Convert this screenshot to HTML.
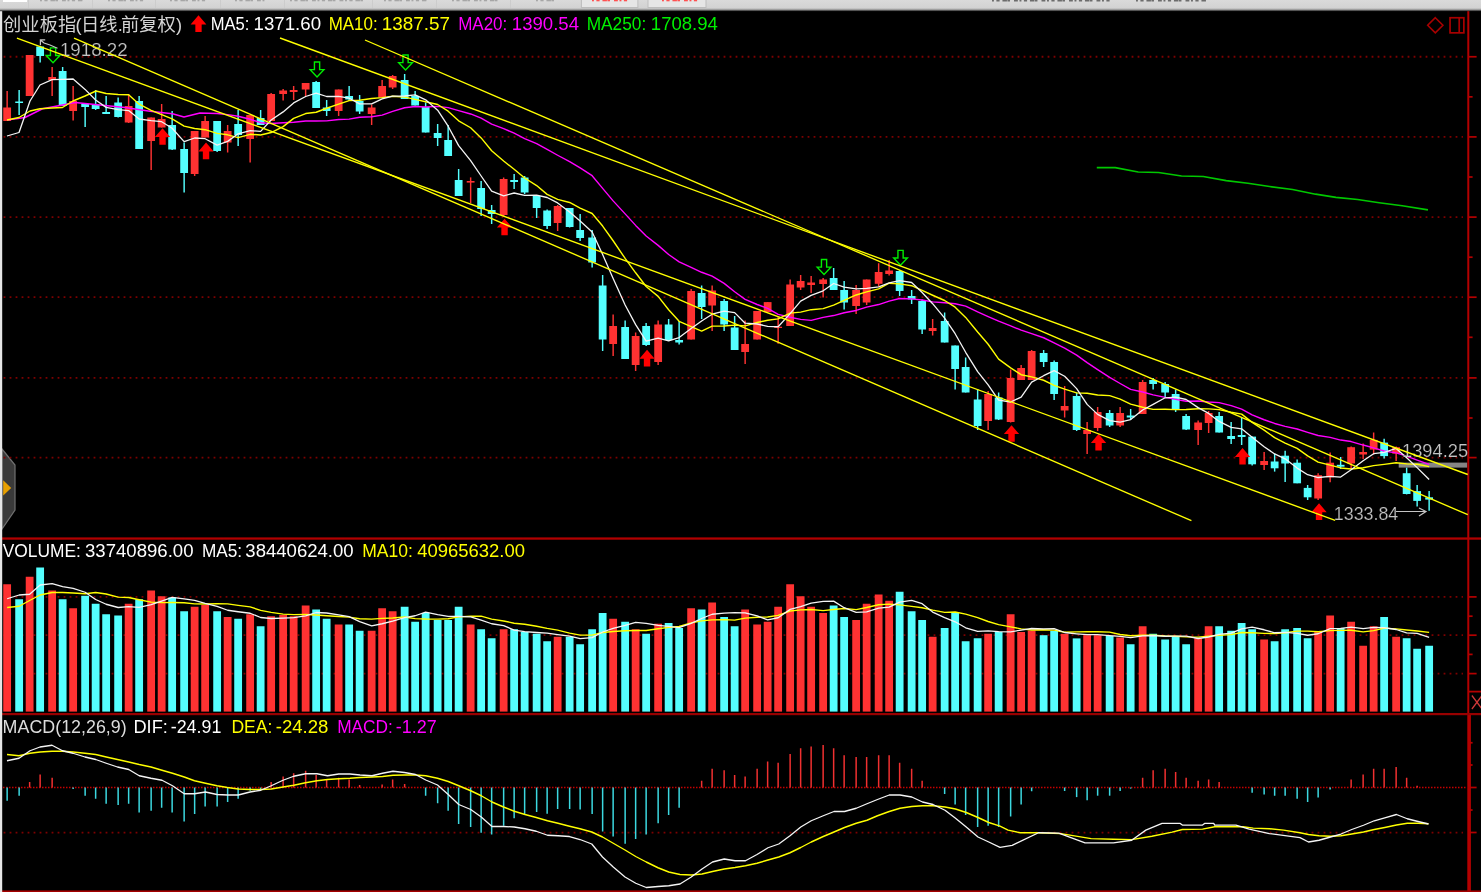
<!DOCTYPE html>
<html><head><meta charset="utf-8"><title>chart</title>
<style>html,body{margin:0;padding:0;background:#000;overflow:hidden}body{width:1481px;height:892px;position:relative;font-family:"Liberation Sans",sans-serif}svg text{font-family:"Liberation Sans",sans-serif}</style></head>
<body>
<svg width="1481" height="892" viewBox="0 0 1481 892" style="position:absolute;left:0;top:0;will-change:transform">
<defs><linearGradient id="tb" x1="0" y1="0" x2="0" y2="1"><stop offset="0" stop-color="#dadada"/><stop offset="0.72" stop-color="#d2d2d2"/><stop offset="0.86" stop-color="#9a9a9a"/><stop offset="1" stop-color="#1a1a1a"/></linearGradient></defs>
<rect width="1481" height="892" fill="#000"/>
<path d="M2,449 L15,465 L15,510 L2,529 Z" fill="#3a3a3a" stroke="#707070" stroke-width="1.2"/>
<path d="M3.2,480.3 L11.2,488 L3.2,495.6 Z" fill="#e8a000"/>
<line x1="3.6" y1="56.75" x2="1463" y2="56.75" stroke="#7e0000" stroke-width="1.8" stroke-dasharray="1.8 4.2"/>
<line x1="3.6" y1="136.9" x2="1463" y2="136.9" stroke="#7e0000" stroke-width="1.8" stroke-dasharray="1.8 4.2"/>
<line x1="3.6" y1="217.1" x2="1463" y2="217.1" stroke="#7e0000" stroke-width="1.8" stroke-dasharray="1.8 4.2"/>
<line x1="3.6" y1="297.2" x2="1463" y2="297.2" stroke="#7e0000" stroke-width="1.8" stroke-dasharray="1.8 4.2"/>
<line x1="3.6" y1="377.9" x2="1463" y2="377.9" stroke="#7e0000" stroke-width="1.8" stroke-dasharray="1.8 4.2"/>
<line x1="3.6" y1="457.6" x2="1463" y2="457.6" stroke="#7e0000" stroke-width="1.8" stroke-dasharray="1.8 4.2"/>
<line x1="3.6" y1="596.9" x2="1463" y2="596.9" stroke="#7e0000" stroke-width="1.8" stroke-dasharray="1.8 4.2"/>
<line x1="3.6" y1="635.2" x2="1463" y2="635.2" stroke="#7e0000" stroke-width="1.8" stroke-dasharray="1.8 4.2"/>
<line x1="3.6" y1="673.6" x2="1463" y2="673.6" stroke="#7e0000" stroke-width="1.8" stroke-dasharray="1.8 4.2"/>
<line x1="3.6" y1="832.6" x2="1463" y2="832.6" stroke="#7e0000" stroke-width="1.8" stroke-dasharray="1.8 4.2"/>
<line x1="3" y1="787.5" x2="1466" y2="787.5" stroke="#c40000" stroke-width="1.7" stroke-dasharray="1.5 1.5"/>
<rect x="3.24" y="584.25" width="7.8" height="127.35" fill="#ff3232"/>
<rect x="15.24" y="599.25" width="7.8" height="112.35" fill="#54ffff"/>
<rect x="25.74" y="576.75" width="7.8" height="134.85" fill="#ff3232"/>
<rect x="36.24" y="567.5" width="7.8" height="144.1" fill="#54ffff"/>
<rect x="48.24" y="590.5" width="7.8" height="121.1" fill="#ff3232"/>
<rect x="58.74" y="599.25" width="7.8" height="112.35" fill="#54ffff"/>
<rect x="69.24" y="608.25" width="7.8" height="103.35" fill="#ff3232"/>
<rect x="81.24" y="595.75" width="7.8" height="115.85" fill="#54ffff"/>
<rect x="91.74" y="603.75" width="7.8" height="107.85" fill="#54ffff"/>
<rect x="102.24" y="614.25" width="7.8" height="97.35" fill="#54ffff"/>
<rect x="114.24" y="615.5" width="7.8" height="96.1" fill="#54ffff"/>
<rect x="124.74" y="603.75" width="7.8" height="107.85" fill="#ff3232"/>
<rect x="135.24" y="599.25" width="7.8" height="112.35" fill="#54ffff"/>
<rect x="147.24" y="590.5" width="7.8" height="121.1" fill="#ff3232"/>
<rect x="157.74" y="596.25" width="7.8" height="115.35" fill="#ff3232"/>
<rect x="168.24" y="597.5" width="7.8" height="114.1" fill="#54ffff"/>
<rect x="180.24" y="611.25" width="7.8" height="100.35" fill="#54ffff"/>
<rect x="190.74" y="606.75" width="7.8" height="104.85" fill="#ff3232"/>
<rect x="201.24" y="605" width="7.8" height="106.6" fill="#ff3232"/>
<rect x="213.24" y="611.25" width="7.8" height="100.35" fill="#54ffff"/>
<rect x="223.74" y="617" width="7.8" height="94.6" fill="#ff3232"/>
<rect x="234.24" y="618.75" width="7.8" height="92.85" fill="#54ffff"/>
<rect x="246.24" y="614.25" width="7.8" height="97.35" fill="#ff3232"/>
<rect x="256.74" y="626.25" width="7.8" height="85.35" fill="#54ffff"/>
<rect x="267.24" y="616.25" width="7.8" height="95.35" fill="#ff3232"/>
<rect x="279.24" y="615" width="7.8" height="96.6" fill="#ff3232"/>
<rect x="289.74" y="616.25" width="7.8" height="95.35" fill="#ff3232"/>
<rect x="301.74" y="605.5" width="7.8" height="106.1" fill="#ff3232"/>
<rect x="312.24" y="609.5" width="7.8" height="102.1" fill="#54ffff"/>
<rect x="322.74" y="618.75" width="7.8" height="92.85" fill="#54ffff"/>
<rect x="334.74" y="624.5" width="7.8" height="87.1" fill="#ff3232"/>
<rect x="345.24" y="624.5" width="7.8" height="87.1" fill="#54ffff"/>
<rect x="355.74" y="630.75" width="7.8" height="80.85" fill="#54ffff"/>
<rect x="367.74" y="630.75" width="7.8" height="80.85" fill="#ff3232"/>
<rect x="378.24" y="608.25" width="7.8" height="103.35" fill="#ff3232"/>
<rect x="388.74" y="611.25" width="7.8" height="100.35" fill="#ff3232"/>
<rect x="400.74" y="606.75" width="7.8" height="104.85" fill="#54ffff"/>
<rect x="411.24" y="621.75" width="7.8" height="89.85" fill="#54ffff"/>
<rect x="421.74" y="613" width="7.8" height="98.6" fill="#54ffff"/>
<rect x="433.74" y="620" width="7.8" height="91.6" fill="#54ffff"/>
<rect x="444.24" y="620" width="7.8" height="91.6" fill="#54ffff"/>
<rect x="454.74" y="606.75" width="7.8" height="104.85" fill="#54ffff"/>
<rect x="466.74" y="624.5" width="7.8" height="87.1" fill="#ff3232"/>
<rect x="477.24" y="629.25" width="7.8" height="82.35" fill="#54ffff"/>
<rect x="487.74" y="638.25" width="7.8" height="73.35" fill="#54ffff"/>
<rect x="499.74" y="629.25" width="7.8" height="82.35" fill="#ff3232"/>
<rect x="510.24" y="629.25" width="7.8" height="82.35" fill="#54ffff"/>
<rect x="520.74" y="632" width="7.8" height="79.6" fill="#54ffff"/>
<rect x="532.74" y="633.75" width="7.8" height="77.85" fill="#54ffff"/>
<rect x="543.24" y="641.25" width="7.8" height="70.35" fill="#54ffff"/>
<rect x="553.74" y="636.75" width="7.8" height="74.85" fill="#ff3232"/>
<rect x="565.74" y="636.75" width="7.8" height="74.85" fill="#54ffff"/>
<rect x="576.24" y="644.25" width="7.8" height="67.35" fill="#54ffff"/>
<rect x="588.24" y="629.25" width="7.8" height="82.35" fill="#54ffff"/>
<rect x="598.74" y="613" width="7.8" height="98.6" fill="#54ffff"/>
<rect x="609.24" y="618.75" width="7.8" height="92.85" fill="#ff3232"/>
<rect x="621.24" y="621.75" width="7.8" height="89.85" fill="#54ffff"/>
<rect x="631.74" y="629.25" width="7.8" height="82.35" fill="#ff3232"/>
<rect x="642.24" y="633.75" width="7.8" height="77.85" fill="#54ffff"/>
<rect x="654.24" y="623.75" width="7.8" height="87.85" fill="#ff3232"/>
<rect x="664.74" y="623" width="7.8" height="88.6" fill="#54ffff"/>
<rect x="675.24" y="628" width="7.8" height="83.6" fill="#54ffff"/>
<rect x="687.24" y="608.25" width="7.8" height="103.35" fill="#ff3232"/>
<rect x="697.74" y="609.5" width="7.8" height="102.1" fill="#54ffff"/>
<rect x="708.24" y="602.5" width="7.8" height="109.1" fill="#ff3232"/>
<rect x="720.24" y="617" width="7.8" height="94.6" fill="#54ffff"/>
<rect x="730.74" y="626.25" width="7.8" height="85.35" fill="#54ffff"/>
<rect x="741.24" y="609.5" width="7.8" height="102.1" fill="#ff3232"/>
<rect x="753.24" y="624.5" width="7.8" height="87.1" fill="#ff3232"/>
<rect x="763.74" y="621.75" width="7.8" height="89.85" fill="#ff3232"/>
<rect x="774.24" y="606.75" width="7.8" height="104.85" fill="#ff3232"/>
<rect x="786.24" y="584.25" width="7.8" height="127.35" fill="#ff3232"/>
<rect x="796.74" y="596.25" width="7.8" height="115.35" fill="#ff3232"/>
<rect x="807.24" y="606.75" width="7.8" height="104.85" fill="#ff3232"/>
<rect x="819.24" y="613" width="7.8" height="98.6" fill="#ff3232"/>
<rect x="829.74" y="605.5" width="7.8" height="106.1" fill="#54ffff"/>
<rect x="840.24" y="617" width="7.8" height="94.6" fill="#54ffff"/>
<rect x="852.24" y="620" width="7.8" height="91.6" fill="#ff3232"/>
<rect x="862.74" y="603.75" width="7.8" height="107.85" fill="#ff3232"/>
<rect x="874.74" y="594.5" width="7.8" height="117.1" fill="#ff3232"/>
<rect x="885.24" y="600.75" width="7.8" height="110.85" fill="#ff3232"/>
<rect x="895.74" y="591.75" width="7.8" height="119.85" fill="#54ffff"/>
<rect x="907.74" y="611.25" width="7.8" height="100.35" fill="#54ffff"/>
<rect x="918.24" y="620" width="7.8" height="91.6" fill="#54ffff"/>
<rect x="928.74" y="636.75" width="7.8" height="74.85" fill="#ff3232"/>
<rect x="940.74" y="628" width="7.8" height="83.6" fill="#54ffff"/>
<rect x="951.24" y="613" width="7.8" height="98.6" fill="#54ffff"/>
<rect x="961.74" y="641.25" width="7.8" height="70.35" fill="#54ffff"/>
<rect x="973.74" y="638.25" width="7.8" height="73.35" fill="#54ffff"/>
<rect x="984.24" y="633.75" width="7.8" height="77.85" fill="#ff3232"/>
<rect x="994.74" y="632" width="7.8" height="79.6" fill="#54ffff"/>
<rect x="1006.74" y="614.25" width="7.8" height="97.35" fill="#ff3232"/>
<rect x="1017.24" y="632" width="7.8" height="79.6" fill="#ff3232"/>
<rect x="1027.74" y="630.5" width="7.8" height="81.1" fill="#ff3232"/>
<rect x="1039.74" y="635.2" width="7.8" height="76.4" fill="#54ffff"/>
<rect x="1050.24" y="631" width="7.8" height="80.6" fill="#54ffff"/>
<rect x="1060.74" y="633.8" width="7.8" height="77.8" fill="#ff3232"/>
<rect x="1072.74" y="638.4" width="7.8" height="73.2" fill="#54ffff"/>
<rect x="1083.24" y="635.2" width="7.8" height="76.4" fill="#ff3232"/>
<rect x="1093.74" y="635.2" width="7.8" height="76.4" fill="#ff3232"/>
<rect x="1105.74" y="636" width="7.8" height="75.6" fill="#54ffff"/>
<rect x="1116.24" y="637.5" width="7.8" height="74.1" fill="#ff3232"/>
<rect x="1126.74" y="644.25" width="7.8" height="67.35" fill="#54ffff"/>
<rect x="1138.74" y="626.25" width="7.8" height="85.35" fill="#ff3232"/>
<rect x="1149.24" y="633.75" width="7.8" height="77.85" fill="#54ffff"/>
<rect x="1161.24" y="639.5" width="7.8" height="72.1" fill="#54ffff"/>
<rect x="1171.74" y="636.75" width="7.8" height="74.85" fill="#54ffff"/>
<rect x="1182.24" y="644.25" width="7.8" height="67.35" fill="#54ffff"/>
<rect x="1194.24" y="638.25" width="7.8" height="73.35" fill="#ff3232"/>
<rect x="1204.74" y="626.25" width="7.8" height="85.35" fill="#ff3232"/>
<rect x="1215.24" y="626.25" width="7.8" height="85.35" fill="#54ffff"/>
<rect x="1227.24" y="630.75" width="7.8" height="80.85" fill="#54ffff"/>
<rect x="1237.74" y="623" width="7.8" height="88.6" fill="#54ffff"/>
<rect x="1248.24" y="629.25" width="7.8" height="82.35" fill="#54ffff"/>
<rect x="1260.24" y="639.5" width="7.8" height="72.1" fill="#ff3232"/>
<rect x="1270.74" y="641.25" width="7.8" height="70.35" fill="#54ffff"/>
<rect x="1281.24" y="629.25" width="7.8" height="82.35" fill="#54ffff"/>
<rect x="1293.24" y="628" width="7.8" height="83.6" fill="#54ffff"/>
<rect x="1303.74" y="638.25" width="7.8" height="73.35" fill="#54ffff"/>
<rect x="1314.24" y="632" width="7.8" height="79.6" fill="#ff3232"/>
<rect x="1326.24" y="615.5" width="7.8" height="96.1" fill="#ff3232"/>
<rect x="1336.74" y="628" width="7.8" height="83.6" fill="#54ffff"/>
<rect x="1347.24" y="621.75" width="7.8" height="89.85" fill="#ff3232"/>
<rect x="1359.24" y="645.75" width="7.8" height="65.85" fill="#ff3232"/>
<rect x="1369.74" y="626.25" width="7.8" height="85.35" fill="#ff3232"/>
<rect x="1380.24" y="617" width="7.8" height="94.6" fill="#54ffff"/>
<rect x="1392.24" y="636.75" width="7.8" height="74.85" fill="#ff3232"/>
<rect x="1402.74" y="638.25" width="7.8" height="73.35" fill="#54ffff"/>
<rect x="1413.24" y="648.75" width="7.8" height="62.85" fill="#54ffff"/>
<rect x="1425.24" y="645.75" width="7.8" height="65.85" fill="#54ffff"/>
<line x1="7.14" y1="787.5" x2="7.14" y2="800.75" stroke="#3cd8e0" stroke-width="1.5"/>
<line x1="19.14" y1="787.5" x2="19.14" y2="795.75" stroke="#3cd8e0" stroke-width="1.5"/>
<line x1="29.64" y1="787.5" x2="29.64" y2="782" stroke="#f03030" stroke-width="1.5"/>
<line x1="40.14" y1="787.5" x2="40.14" y2="774.5" stroke="#f03030" stroke-width="1.5"/>
<line x1="52.14" y1="787.5" x2="52.14" y2="777.75" stroke="#f03030" stroke-width="1.5"/>
<line x1="73.14" y1="787.5" x2="73.14" y2="789" stroke="#3cd8e0" stroke-width="1.5"/>
<line x1="85.14" y1="787.5" x2="85.14" y2="795.75" stroke="#3cd8e0" stroke-width="1.5"/>
<line x1="95.64" y1="787.5" x2="95.64" y2="798.75" stroke="#3cd8e0" stroke-width="1.5"/>
<line x1="106.14" y1="787.5" x2="106.14" y2="803.75" stroke="#3cd8e0" stroke-width="1.5"/>
<line x1="118.14" y1="787.5" x2="118.14" y2="805" stroke="#3cd8e0" stroke-width="1.5"/>
<line x1="128.64" y1="787.5" x2="128.64" y2="803.75" stroke="#3cd8e0" stroke-width="1.5"/>
<line x1="139.14" y1="787.5" x2="139.14" y2="812.5" stroke="#3cd8e0" stroke-width="1.5"/>
<line x1="151.14" y1="787.5" x2="151.14" y2="810.75" stroke="#3cd8e0" stroke-width="1.5"/>
<line x1="161.64" y1="787.5" x2="161.64" y2="807.75" stroke="#3cd8e0" stroke-width="1.5"/>
<line x1="172.14" y1="787.5" x2="172.14" y2="812.5" stroke="#3cd8e0" stroke-width="1.5"/>
<line x1="184.14" y1="787.5" x2="184.14" y2="821.5" stroke="#3cd8e0" stroke-width="1.5"/>
<line x1="194.64" y1="787.5" x2="194.64" y2="814" stroke="#3cd8e0" stroke-width="1.5"/>
<line x1="205.14" y1="787.5" x2="205.14" y2="806.5" stroke="#3cd8e0" stroke-width="1.5"/>
<line x1="217.14" y1="787.5" x2="217.14" y2="806.5" stroke="#3cd8e0" stroke-width="1.5"/>
<line x1="227.64" y1="787.5" x2="227.64" y2="802" stroke="#3cd8e0" stroke-width="1.5"/>
<line x1="238.14" y1="787.5" x2="238.14" y2="798.75" stroke="#3cd8e0" stroke-width="1.5"/>
<line x1="250.14" y1="787.5" x2="250.14" y2="790.75" stroke="#3cd8e0" stroke-width="1.5"/>
<line x1="260.64" y1="787.5" x2="260.64" y2="789.5" stroke="#3cd8e0" stroke-width="1.5"/>
<line x1="271.14" y1="787.5" x2="271.14" y2="782" stroke="#f03030" stroke-width="1.5"/>
<line x1="283.14" y1="787.5" x2="283.14" y2="776.5" stroke="#f03030" stroke-width="1.5"/>
<line x1="293.64" y1="787.5" x2="293.64" y2="773.25" stroke="#f03030" stroke-width="1.5"/>
<line x1="305.64" y1="787.5" x2="305.64" y2="770.75" stroke="#f03030" stroke-width="1.5"/>
<line x1="316.14" y1="787.5" x2="316.14" y2="775" stroke="#f03030" stroke-width="1.5"/>
<line x1="326.64" y1="787.5" x2="326.64" y2="779.5" stroke="#f03030" stroke-width="1.5"/>
<line x1="338.64" y1="787.5" x2="338.64" y2="777.75" stroke="#f03030" stroke-width="1.5"/>
<line x1="349.14" y1="787.5" x2="349.14" y2="779.5" stroke="#f03030" stroke-width="1.5"/>
<line x1="359.64" y1="787.5" x2="359.64" y2="785" stroke="#f03030" stroke-width="1.5"/>
<line x1="382.14" y1="787.5" x2="382.14" y2="784.5" stroke="#f03030" stroke-width="1.5"/>
<line x1="392.64" y1="787.5" x2="392.64" y2="779.5" stroke="#f03030" stroke-width="1.5"/>
<line x1="404.64" y1="787.5" x2="404.64" y2="784" stroke="#f03030" stroke-width="1.5"/>
<line x1="425.64" y1="787.5" x2="425.64" y2="795.75" stroke="#3cd8e0" stroke-width="1.5"/>
<line x1="437.64" y1="787.5" x2="437.64" y2="803.25" stroke="#3cd8e0" stroke-width="1.5"/>
<line x1="448.14" y1="787.5" x2="448.14" y2="810.75" stroke="#3cd8e0" stroke-width="1.5"/>
<line x1="458.64" y1="787.5" x2="458.64" y2="824" stroke="#3cd8e0" stroke-width="1.5"/>
<line x1="470.64" y1="787.5" x2="470.64" y2="827" stroke="#3cd8e0" stroke-width="1.5"/>
<line x1="481.14" y1="787.5" x2="481.14" y2="832.75" stroke="#3cd8e0" stroke-width="1.5"/>
<line x1="491.64" y1="787.5" x2="491.64" y2="834.5" stroke="#3cd8e0" stroke-width="1.5"/>
<line x1="503.64" y1="787.5" x2="503.64" y2="825.75" stroke="#3cd8e0" stroke-width="1.5"/>
<line x1="514.14" y1="787.5" x2="514.14" y2="818.25" stroke="#3cd8e0" stroke-width="1.5"/>
<line x1="524.64" y1="787.5" x2="524.64" y2="814.5" stroke="#3cd8e0" stroke-width="1.5"/>
<line x1="536.64" y1="787.5" x2="536.64" y2="812" stroke="#3cd8e0" stroke-width="1.5"/>
<line x1="547.14" y1="787.5" x2="547.14" y2="813.75" stroke="#3cd8e0" stroke-width="1.5"/>
<line x1="557.64" y1="787.5" x2="557.64" y2="809" stroke="#3cd8e0" stroke-width="1.5"/>
<line x1="569.64" y1="787.5" x2="569.64" y2="809" stroke="#3cd8e0" stroke-width="1.5"/>
<line x1="580.14" y1="787.5" x2="580.14" y2="809.5" stroke="#3cd8e0" stroke-width="1.5"/>
<line x1="592.14" y1="787.5" x2="592.14" y2="814" stroke="#3cd8e0" stroke-width="1.5"/>
<line x1="602.64" y1="787.5" x2="602.64" y2="831.5" stroke="#3cd8e0" stroke-width="1.5"/>
<line x1="613.14" y1="787.5" x2="613.14" y2="836.5" stroke="#3cd8e0" stroke-width="1.5"/>
<line x1="625.14" y1="787.5" x2="625.14" y2="843.75" stroke="#3cd8e0" stroke-width="1.5"/>
<line x1="635.64" y1="787.5" x2="635.64" y2="839" stroke="#3cd8e0" stroke-width="1.5"/>
<line x1="646.14" y1="787.5" x2="646.14" y2="834.5" stroke="#3cd8e0" stroke-width="1.5"/>
<line x1="658.14" y1="787.5" x2="658.14" y2="823.25" stroke="#3cd8e0" stroke-width="1.5"/>
<line x1="668.64" y1="787.5" x2="668.64" y2="815" stroke="#3cd8e0" stroke-width="1.5"/>
<line x1="679.14" y1="787.5" x2="679.14" y2="807.75" stroke="#3cd8e0" stroke-width="1.5"/>
<line x1="701.64" y1="787.5" x2="701.64" y2="780.75" stroke="#f03030" stroke-width="1.5"/>
<line x1="712.14" y1="787.5" x2="712.14" y2="768.75" stroke="#f03030" stroke-width="1.5"/>
<line x1="724.14" y1="787.5" x2="724.14" y2="770.25" stroke="#f03030" stroke-width="1.5"/>
<line x1="734.64" y1="787.5" x2="734.64" y2="775" stroke="#f03030" stroke-width="1.5"/>
<line x1="745.14" y1="787.5" x2="745.14" y2="776.5" stroke="#f03030" stroke-width="1.5"/>
<line x1="757.14" y1="787.5" x2="757.14" y2="768.75" stroke="#f03030" stroke-width="1.5"/>
<line x1="767.64" y1="787.5" x2="767.64" y2="761.5" stroke="#f03030" stroke-width="1.5"/>
<line x1="778.14" y1="787.5" x2="778.14" y2="762.75" stroke="#f03030" stroke-width="1.5"/>
<line x1="790.14" y1="787.5" x2="790.14" y2="754" stroke="#f03030" stroke-width="1.5"/>
<line x1="800.64" y1="787.5" x2="800.64" y2="748.25" stroke="#f03030" stroke-width="1.5"/>
<line x1="811.14" y1="787.5" x2="811.14" y2="746.5" stroke="#f03030" stroke-width="1.5"/>
<line x1="823.14" y1="787.5" x2="823.14" y2="745" stroke="#f03030" stroke-width="1.5"/>
<line x1="833.64" y1="787.5" x2="833.64" y2="748.25" stroke="#f03030" stroke-width="1.5"/>
<line x1="844.14" y1="787.5" x2="844.14" y2="755.25" stroke="#f03030" stroke-width="1.5"/>
<line x1="856.14" y1="787.5" x2="856.14" y2="757" stroke="#f03030" stroke-width="1.5"/>
<line x1="866.64" y1="787.5" x2="866.64" y2="757" stroke="#f03030" stroke-width="1.5"/>
<line x1="878.64" y1="787.5" x2="878.64" y2="755.25" stroke="#f03030" stroke-width="1.5"/>
<line x1="889.14" y1="787.5" x2="889.14" y2="755.25" stroke="#f03030" stroke-width="1.5"/>
<line x1="899.64" y1="787.5" x2="899.64" y2="762.75" stroke="#f03030" stroke-width="1.5"/>
<line x1="911.64" y1="787.5" x2="911.64" y2="768.75" stroke="#f03030" stroke-width="1.5"/>
<line x1="922.14" y1="787.5" x2="922.14" y2="780.75" stroke="#f03030" stroke-width="1.5"/>
<line x1="944.64" y1="787.5" x2="944.64" y2="794" stroke="#3cd8e0" stroke-width="1.5"/>
<line x1="955.14" y1="787.5" x2="955.14" y2="804.5" stroke="#3cd8e0" stroke-width="1.5"/>
<line x1="965.64" y1="787.5" x2="965.64" y2="815" stroke="#3cd8e0" stroke-width="1.5"/>
<line x1="977.64" y1="787.5" x2="977.64" y2="827" stroke="#3cd8e0" stroke-width="1.5"/>
<line x1="988.14" y1="787.5" x2="988.14" y2="825.75" stroke="#3cd8e0" stroke-width="1.5"/>
<line x1="998.64" y1="787.5" x2="998.64" y2="827" stroke="#3cd8e0" stroke-width="1.5"/>
<line x1="1010.64" y1="787.5" x2="1010.64" y2="816.5" stroke="#3cd8e0" stroke-width="1.5"/>
<line x1="1021.14" y1="787.5" x2="1021.14" y2="804.5" stroke="#3cd8e0" stroke-width="1.5"/>
<line x1="1031.64" y1="787.5" x2="1031.64" y2="791.25" stroke="#3cd8e0" stroke-width="1.5"/>
<line x1="1064.64" y1="787.5" x2="1064.64" y2="791" stroke="#3cd8e0" stroke-width="1.5"/>
<line x1="1076.64" y1="787.5" x2="1076.64" y2="797.1" stroke="#3cd8e0" stroke-width="1.5"/>
<line x1="1087.14" y1="787.5" x2="1087.14" y2="800.2" stroke="#3cd8e0" stroke-width="1.5"/>
<line x1="1097.64" y1="787.5" x2="1097.64" y2="795.7" stroke="#3cd8e0" stroke-width="1.5"/>
<line x1="1109.64" y1="787.5" x2="1109.64" y2="795.7" stroke="#3cd8e0" stroke-width="1.5"/>
<line x1="1120.14" y1="787.5" x2="1120.14" y2="791" stroke="#3cd8e0" stroke-width="1.5"/>
<line x1="1130.64" y1="787.5" x2="1130.64" y2="788.6" stroke="#3cd8e0" stroke-width="1.5"/>
<line x1="1142.64" y1="787.5" x2="1142.64" y2="777.75" stroke="#f03030" stroke-width="1.5"/>
<line x1="1153.14" y1="787.5" x2="1153.14" y2="770.25" stroke="#f03030" stroke-width="1.5"/>
<line x1="1165.14" y1="787.5" x2="1165.14" y2="768.75" stroke="#f03030" stroke-width="1.5"/>
<line x1="1175.64" y1="787.5" x2="1175.64" y2="772" stroke="#f03030" stroke-width="1.5"/>
<line x1="1186.14" y1="787.5" x2="1186.14" y2="777.75" stroke="#f03030" stroke-width="1.5"/>
<line x1="1198.14" y1="787.5" x2="1198.14" y2="780.75" stroke="#f03030" stroke-width="1.5"/>
<line x1="1208.64" y1="787.5" x2="1208.64" y2="779.5" stroke="#f03030" stroke-width="1.5"/>
<line x1="1219.14" y1="787.5" x2="1219.14" y2="782" stroke="#f03030" stroke-width="1.5"/>
<line x1="1252.14" y1="787.5" x2="1252.14" y2="792.75" stroke="#3cd8e0" stroke-width="1.5"/>
<line x1="1264.14" y1="787.5" x2="1264.14" y2="794.5" stroke="#3cd8e0" stroke-width="1.5"/>
<line x1="1274.64" y1="787.5" x2="1274.64" y2="795.75" stroke="#3cd8e0" stroke-width="1.5"/>
<line x1="1285.14" y1="787.5" x2="1285.14" y2="795.75" stroke="#3cd8e0" stroke-width="1.5"/>
<line x1="1297.14" y1="787.5" x2="1297.14" y2="798.75" stroke="#3cd8e0" stroke-width="1.5"/>
<line x1="1307.64" y1="787.5" x2="1307.64" y2="802" stroke="#3cd8e0" stroke-width="1.5"/>
<line x1="1318.14" y1="787.5" x2="1318.14" y2="797.5" stroke="#3cd8e0" stroke-width="1.5"/>
<line x1="1330.14" y1="787.5" x2="1330.14" y2="789.5" stroke="#3cd8e0" stroke-width="1.5"/>
<line x1="1351.14" y1="787.5" x2="1351.14" y2="779.5" stroke="#f03030" stroke-width="1.5"/>
<line x1="1363.14" y1="787.5" x2="1363.14" y2="774.5" stroke="#f03030" stroke-width="1.5"/>
<line x1="1373.64" y1="787.5" x2="1373.64" y2="768.75" stroke="#f03030" stroke-width="1.5"/>
<line x1="1384.14" y1="787.5" x2="1384.14" y2="768.75" stroke="#f03030" stroke-width="1.5"/>
<line x1="1396.14" y1="787.5" x2="1396.14" y2="767" stroke="#f03030" stroke-width="1.5"/>
<line x1="1406.64" y1="787.5" x2="1406.64" y2="777.75" stroke="#f03030" stroke-width="1.5"/>
<line x1="1417.14" y1="787.5" x2="1417.14" y2="785.75" stroke="#f03030" stroke-width="1.5"/>
<line x1="7.14" y1="91" x2="7.14" y2="121" stroke="#ff3232" stroke-width="1.45"/>
<rect x="3.24" y="107.5" width="7.8" height="13.5" fill="#ff3232"/>
<line x1="19.14" y1="90" x2="19.14" y2="115" stroke="#54ffff" stroke-width="1.45"/>
<rect x="15.24" y="101.5" width="7.8" height="1.5" fill="#54ffff"/>
<line x1="29.64" y1="55" x2="29.64" y2="96" stroke="#ff3232" stroke-width="1.45"/>
<rect x="25.74" y="55" width="7.8" height="41" fill="#ff3232"/>
<line x1="40.14" y1="46" x2="40.14" y2="62.5" stroke="#54ffff" stroke-width="1.45"/>
<rect x="36.24" y="46.5" width="7.8" height="9.5" fill="#54ffff"/>
<line x1="52.14" y1="67" x2="52.14" y2="96" stroke="#ff3232" stroke-width="1.45"/>
<rect x="48.24" y="77" width="7.8" height="3" fill="#ff3232"/>
<line x1="62.64" y1="67" x2="62.64" y2="106" stroke="#54ffff" stroke-width="1.45"/>
<rect x="58.74" y="71" width="7.8" height="35" fill="#54ffff"/>
<line x1="73.14" y1="86" x2="73.14" y2="120.5" stroke="#ff3232" stroke-width="1.45"/>
<rect x="69.24" y="101" width="7.8" height="10" fill="#ff3232"/>
<line x1="85.14" y1="104" x2="85.14" y2="127" stroke="#54ffff" stroke-width="1.45"/>
<rect x="81.24" y="104" width="7.8" height="3" fill="#54ffff"/>
<line x1="95.64" y1="90" x2="95.64" y2="110" stroke="#54ffff" stroke-width="1.45"/>
<rect x="91.74" y="104.5" width="7.8" height="4.5" fill="#54ffff"/>
<line x1="106.14" y1="96" x2="106.14" y2="114" stroke="#54ffff" stroke-width="1.45"/>
<rect x="102.24" y="112" width="7.8" height="2" fill="#54ffff"/>
<line x1="118.14" y1="97.5" x2="118.14" y2="117.5" stroke="#54ffff" stroke-width="1.45"/>
<rect x="114.24" y="102.5" width="7.8" height="14.5" fill="#54ffff"/>
<line x1="128.64" y1="94" x2="128.64" y2="123" stroke="#ff3232" stroke-width="1.45"/>
<rect x="124.74" y="106" width="7.8" height="16.5" fill="#ff3232"/>
<line x1="139.14" y1="96" x2="139.14" y2="149" stroke="#54ffff" stroke-width="1.45"/>
<rect x="135.24" y="101" width="7.8" height="48" fill="#54ffff"/>
<line x1="151.14" y1="117.5" x2="151.14" y2="170" stroke="#ff3232" stroke-width="1.45"/>
<rect x="147.24" y="117.5" width="7.8" height="23.5" fill="#ff3232"/>
<line x1="161.64" y1="104" x2="161.64" y2="127.5" stroke="#ff3232" stroke-width="1.45"/>
<rect x="157.74" y="119" width="7.8" height="8.5" fill="#ff3232"/>
<line x1="172.14" y1="111" x2="172.14" y2="150" stroke="#54ffff" stroke-width="1.45"/>
<rect x="168.24" y="125" width="7.8" height="24.5" fill="#54ffff"/>
<line x1="184.14" y1="142.5" x2="184.14" y2="192.5" stroke="#54ffff" stroke-width="1.45"/>
<rect x="180.24" y="149" width="7.8" height="24" fill="#54ffff"/>
<line x1="194.64" y1="131" x2="194.64" y2="176" stroke="#ff3232" stroke-width="1.45"/>
<rect x="190.74" y="131" width="7.8" height="43" fill="#ff3232"/>
<line x1="205.14" y1="116" x2="205.14" y2="137.5" stroke="#ff3232" stroke-width="1.45"/>
<rect x="201.24" y="121" width="7.8" height="16.5" fill="#ff3232"/>
<line x1="217.14" y1="121" x2="217.14" y2="152" stroke="#54ffff" stroke-width="1.45"/>
<rect x="213.24" y="121" width="7.8" height="30" fill="#54ffff"/>
<line x1="227.64" y1="125" x2="227.64" y2="152.5" stroke="#ff3232" stroke-width="1.45"/>
<rect x="223.74" y="131" width="7.8" height="11.5" fill="#ff3232"/>
<line x1="238.14" y1="110" x2="238.14" y2="146" stroke="#54ffff" stroke-width="1.45"/>
<rect x="234.24" y="124" width="7.8" height="11" fill="#54ffff"/>
<line x1="250.14" y1="115" x2="250.14" y2="162.5" stroke="#ff3232" stroke-width="1.45"/>
<rect x="246.24" y="115" width="7.8" height="24" fill="#ff3232"/>
<line x1="260.64" y1="110" x2="260.64" y2="125" stroke="#54ffff" stroke-width="1.45"/>
<rect x="256.74" y="118" width="7.8" height="7" fill="#54ffff"/>
<line x1="271.14" y1="93" x2="271.14" y2="121" stroke="#ff3232" stroke-width="1.45"/>
<rect x="267.24" y="94" width="7.8" height="27" fill="#ff3232"/>
<line x1="283.14" y1="89" x2="283.14" y2="100.5" stroke="#ff3232" stroke-width="1.45"/>
<rect x="279.24" y="90.5" width="7.8" height="3.5" fill="#ff3232"/>
<line x1="293.64" y1="86" x2="293.64" y2="100" stroke="#ff3232" stroke-width="1.45"/>
<rect x="289.74" y="90" width="7.8" height="2" fill="#ff3232"/>
<line x1="305.64" y1="83" x2="305.64" y2="96" stroke="#ff3232" stroke-width="1.45"/>
<rect x="301.74" y="83" width="7.8" height="6.5" fill="#ff3232"/>
<line x1="316.14" y1="81" x2="316.14" y2="108" stroke="#54ffff" stroke-width="1.45"/>
<rect x="312.24" y="82" width="7.8" height="26" fill="#54ffff"/>
<line x1="326.64" y1="100" x2="326.64" y2="116" stroke="#54ffff" stroke-width="1.45"/>
<rect x="322.74" y="107.5" width="7.8" height="3.5" fill="#54ffff"/>
<line x1="338.64" y1="89.5" x2="338.64" y2="116" stroke="#ff3232" stroke-width="1.45"/>
<rect x="334.74" y="89.5" width="7.8" height="21.5" fill="#ff3232"/>
<line x1="349.14" y1="86" x2="349.14" y2="101" stroke="#54ffff" stroke-width="1.45"/>
<rect x="345.24" y="96" width="7.8" height="3.5" fill="#54ffff"/>
<line x1="359.64" y1="95" x2="359.64" y2="114" stroke="#54ffff" stroke-width="1.45"/>
<rect x="355.74" y="101" width="7.8" height="10.5" fill="#54ffff"/>
<line x1="371.64" y1="104.5" x2="371.64" y2="125" stroke="#ff3232" stroke-width="1.45"/>
<rect x="367.74" y="107.5" width="7.8" height="6.5" fill="#ff3232"/>
<line x1="382.14" y1="80" x2="382.14" y2="97.5" stroke="#ff3232" stroke-width="1.45"/>
<rect x="378.24" y="86" width="7.8" height="11.5" fill="#ff3232"/>
<line x1="392.64" y1="75" x2="392.64" y2="89" stroke="#ff3232" stroke-width="1.45"/>
<rect x="388.74" y="76" width="7.8" height="11.5" fill="#ff3232"/>
<line x1="404.64" y1="74" x2="404.64" y2="99" stroke="#54ffff" stroke-width="1.45"/>
<rect x="400.74" y="80" width="7.8" height="19" fill="#54ffff"/>
<line x1="415.14" y1="91" x2="415.14" y2="105.5" stroke="#54ffff" stroke-width="1.45"/>
<rect x="411.24" y="96" width="7.8" height="9.5" fill="#54ffff"/>
<line x1="425.64" y1="102.5" x2="425.64" y2="132.5" stroke="#54ffff" stroke-width="1.45"/>
<rect x="421.74" y="107" width="7.8" height="25.5" fill="#54ffff"/>
<line x1="437.64" y1="124" x2="437.64" y2="146" stroke="#54ffff" stroke-width="1.45"/>
<rect x="433.74" y="133" width="7.8" height="5" fill="#54ffff"/>
<line x1="448.14" y1="125" x2="448.14" y2="156" stroke="#54ffff" stroke-width="1.45"/>
<rect x="444.24" y="140" width="7.8" height="16" fill="#54ffff"/>
<line x1="458.64" y1="169" x2="458.64" y2="196" stroke="#54ffff" stroke-width="1.45"/>
<rect x="454.74" y="180" width="7.8" height="16" fill="#54ffff"/>
<line x1="470.64" y1="177.4" x2="470.64" y2="203" stroke="#ff3232" stroke-width="1.45"/>
<rect x="466.74" y="181" width="7.8" height="1.6" fill="#ff3232"/>
<line x1="481.14" y1="181" x2="481.14" y2="216" stroke="#54ffff" stroke-width="1.45"/>
<rect x="477.24" y="188" width="7.8" height="21" fill="#54ffff"/>
<line x1="491.64" y1="205" x2="491.64" y2="224" stroke="#54ffff" stroke-width="1.45"/>
<rect x="487.74" y="210" width="7.8" height="4" fill="#54ffff"/>
<line x1="503.64" y1="177.5" x2="503.64" y2="216" stroke="#ff3232" stroke-width="1.45"/>
<rect x="499.74" y="179" width="7.8" height="36" fill="#ff3232"/>
<line x1="514.14" y1="174" x2="514.14" y2="189" stroke="#54ffff" stroke-width="1.45"/>
<rect x="510.24" y="180" width="7.8" height="2" fill="#54ffff"/>
<line x1="524.64" y1="176" x2="524.64" y2="194" stroke="#54ffff" stroke-width="1.45"/>
<rect x="520.74" y="177.5" width="7.8" height="15" fill="#54ffff"/>
<line x1="536.64" y1="196" x2="536.64" y2="218" stroke="#54ffff" stroke-width="1.45"/>
<rect x="532.74" y="196" width="7.8" height="12" fill="#54ffff"/>
<line x1="547.14" y1="209.5" x2="547.14" y2="229" stroke="#54ffff" stroke-width="1.45"/>
<rect x="543.24" y="210.5" width="7.8" height="15.5" fill="#54ffff"/>
<line x1="557.64" y1="205" x2="557.64" y2="231" stroke="#ff3232" stroke-width="1.45"/>
<rect x="553.74" y="206" width="7.8" height="17" fill="#ff3232"/>
<line x1="569.64" y1="208" x2="569.64" y2="227.5" stroke="#54ffff" stroke-width="1.45"/>
<rect x="565.74" y="208" width="7.8" height="19" fill="#54ffff"/>
<line x1="580.14" y1="214" x2="580.14" y2="241" stroke="#54ffff" stroke-width="1.45"/>
<rect x="576.24" y="230" width="7.8" height="8" fill="#54ffff"/>
<line x1="592.14" y1="230" x2="592.14" y2="267.5" stroke="#54ffff" stroke-width="1.45"/>
<rect x="588.24" y="237.5" width="7.8" height="25" fill="#54ffff"/>
<line x1="602.64" y1="275" x2="602.64" y2="351" stroke="#54ffff" stroke-width="1.45"/>
<rect x="598.74" y="285.5" width="7.8" height="54" fill="#54ffff"/>
<line x1="613.14" y1="314.5" x2="613.14" y2="356" stroke="#ff3232" stroke-width="1.45"/>
<rect x="609.24" y="326" width="7.8" height="18" fill="#ff3232"/>
<line x1="625.14" y1="320.5" x2="625.14" y2="359" stroke="#54ffff" stroke-width="1.45"/>
<rect x="621.24" y="327" width="7.8" height="32" fill="#54ffff"/>
<line x1="635.64" y1="332.5" x2="635.64" y2="371" stroke="#ff3232" stroke-width="1.45"/>
<rect x="631.74" y="336" width="7.8" height="29" fill="#ff3232"/>
<line x1="646.14" y1="323" x2="646.14" y2="346" stroke="#54ffff" stroke-width="1.45"/>
<rect x="642.24" y="326" width="7.8" height="19" fill="#54ffff"/>
<line x1="658.14" y1="320.5" x2="658.14" y2="365" stroke="#ff3232" stroke-width="1.45"/>
<rect x="654.24" y="324.5" width="7.8" height="37.5" fill="#ff3232"/>
<line x1="668.64" y1="319" x2="668.64" y2="341" stroke="#54ffff" stroke-width="1.45"/>
<rect x="664.74" y="324.5" width="7.8" height="15.5" fill="#54ffff"/>
<line x1="679.14" y1="321" x2="679.14" y2="344.5" stroke="#54ffff" stroke-width="1.45"/>
<rect x="675.24" y="340" width="7.8" height="2.5" fill="#54ffff"/>
<line x1="691.14" y1="289" x2="691.14" y2="339.5" stroke="#ff3232" stroke-width="1.45"/>
<rect x="687.24" y="291" width="7.8" height="48.5" fill="#ff3232"/>
<line x1="701.64" y1="285.5" x2="701.64" y2="319" stroke="#54ffff" stroke-width="1.45"/>
<rect x="697.74" y="293" width="7.8" height="14" fill="#54ffff"/>
<line x1="712.14" y1="285.5" x2="712.14" y2="331" stroke="#ff3232" stroke-width="1.45"/>
<rect x="708.24" y="290.5" width="7.8" height="15" fill="#ff3232"/>
<line x1="724.14" y1="299" x2="724.14" y2="331" stroke="#54ffff" stroke-width="1.45"/>
<rect x="720.24" y="301" width="7.8" height="23.5" fill="#54ffff"/>
<line x1="734.64" y1="316" x2="734.64" y2="350" stroke="#54ffff" stroke-width="1.45"/>
<rect x="730.74" y="327.5" width="7.8" height="22.5" fill="#54ffff"/>
<line x1="745.14" y1="320.5" x2="745.14" y2="364" stroke="#ff3232" stroke-width="1.45"/>
<rect x="741.24" y="344" width="7.8" height="8" fill="#ff3232"/>
<line x1="757.14" y1="311" x2="757.14" y2="339.5" stroke="#ff3232" stroke-width="1.45"/>
<rect x="753.24" y="311" width="7.8" height="28.5" fill="#ff3232"/>
<line x1="767.64" y1="302.1" x2="767.64" y2="312.2" stroke="#ff3232" stroke-width="1.45"/>
<rect x="763.74" y="302.1" width="7.8" height="10.1" fill="#ff3232"/>
<line x1="778.14" y1="316.9" x2="778.14" y2="343.8" stroke="#ff3232" stroke-width="1.45"/>
<rect x="774.24" y="326.7" width="7.8" height="1.3" fill="#ff3232"/>
<line x1="790.14" y1="279.5" x2="790.14" y2="326" stroke="#ff3232" stroke-width="1.45"/>
<rect x="786.24" y="284.5" width="7.8" height="41.5" fill="#ff3232"/>
<line x1="800.64" y1="275" x2="800.64" y2="290" stroke="#ff3232" stroke-width="1.45"/>
<rect x="796.74" y="281" width="7.8" height="6.5" fill="#ff3232"/>
<line x1="811.14" y1="276" x2="811.14" y2="293" stroke="#ff3232" stroke-width="1.45"/>
<rect x="807.24" y="282.5" width="7.8" height="2.5" fill="#ff3232"/>
<line x1="823.14" y1="278" x2="823.14" y2="297.5" stroke="#ff3232" stroke-width="1.45"/>
<rect x="819.24" y="279.5" width="7.8" height="4.5" fill="#ff3232"/>
<line x1="833.64" y1="268" x2="833.64" y2="290" stroke="#54ffff" stroke-width="1.45"/>
<rect x="829.74" y="278" width="7.8" height="12" fill="#54ffff"/>
<line x1="844.14" y1="281" x2="844.14" y2="309.5" stroke="#54ffff" stroke-width="1.45"/>
<rect x="840.24" y="290" width="7.8" height="12.5" fill="#54ffff"/>
<line x1="856.14" y1="285" x2="856.14" y2="314" stroke="#ff3232" stroke-width="1.45"/>
<rect x="852.24" y="290" width="7.8" height="16" fill="#ff3232"/>
<line x1="866.64" y1="279.5" x2="866.64" y2="305" stroke="#ff3232" stroke-width="1.45"/>
<rect x="862.74" y="279.5" width="7.8" height="23" fill="#ff3232"/>
<line x1="878.64" y1="263.2" x2="878.64" y2="286.5" stroke="#ff3232" stroke-width="1.45"/>
<rect x="874.74" y="272" width="7.8" height="11.8" fill="#ff3232"/>
<line x1="889.14" y1="260" x2="889.14" y2="275.5" stroke="#ff3232" stroke-width="1.45"/>
<rect x="885.24" y="270.5" width="7.8" height="3.5" fill="#ff3232"/>
<line x1="899.64" y1="270" x2="899.64" y2="296" stroke="#54ffff" stroke-width="1.45"/>
<rect x="895.74" y="271" width="7.8" height="20" fill="#54ffff"/>
<line x1="911.64" y1="290" x2="911.64" y2="304" stroke="#54ffff" stroke-width="1.45"/>
<rect x="907.74" y="296" width="7.8" height="3.5" fill="#54ffff"/>
<line x1="922.14" y1="299.5" x2="922.14" y2="334" stroke="#54ffff" stroke-width="1.45"/>
<rect x="918.24" y="301" width="7.8" height="28.5" fill="#54ffff"/>
<line x1="932.64" y1="319" x2="932.64" y2="335.5" stroke="#ff3232" stroke-width="1.45"/>
<rect x="928.74" y="328" width="7.8" height="3" fill="#ff3232"/>
<line x1="944.64" y1="312.5" x2="944.64" y2="342.5" stroke="#54ffff" stroke-width="1.45"/>
<rect x="940.74" y="321" width="7.8" height="21.5" fill="#54ffff"/>
<line x1="955.14" y1="345.5" x2="955.14" y2="389.5" stroke="#54ffff" stroke-width="1.45"/>
<rect x="951.24" y="345.5" width="7.8" height="23.5" fill="#54ffff"/>
<line x1="965.64" y1="357.5" x2="965.64" y2="392.5" stroke="#54ffff" stroke-width="1.45"/>
<rect x="961.74" y="367" width="7.8" height="25.5" fill="#54ffff"/>
<line x1="977.64" y1="389" x2="977.64" y2="430" stroke="#54ffff" stroke-width="1.45"/>
<rect x="973.74" y="399.5" width="7.8" height="26.5" fill="#54ffff"/>
<line x1="988.14" y1="391" x2="988.14" y2="430" stroke="#ff3232" stroke-width="1.45"/>
<rect x="984.24" y="394" width="7.8" height="27" fill="#ff3232"/>
<line x1="998.64" y1="392.5" x2="998.64" y2="420" stroke="#54ffff" stroke-width="1.45"/>
<rect x="994.74" y="397.5" width="7.8" height="22" fill="#54ffff"/>
<line x1="1010.64" y1="369.5" x2="1010.64" y2="422.5" stroke="#ff3232" stroke-width="1.45"/>
<rect x="1006.74" y="378" width="7.8" height="44" fill="#ff3232"/>
<line x1="1021.14" y1="365" x2="1021.14" y2="380" stroke="#ff3232" stroke-width="1.45"/>
<rect x="1017.24" y="368" width="7.8" height="12" fill="#ff3232"/>
<line x1="1031.64" y1="350" x2="1031.64" y2="380" stroke="#ff3232" stroke-width="1.45"/>
<rect x="1027.74" y="351" width="7.8" height="29" fill="#ff3232"/>
<line x1="1043.64" y1="350" x2="1043.64" y2="367" stroke="#54ffff" stroke-width="1.45"/>
<rect x="1039.74" y="353" width="7.8" height="9" fill="#54ffff"/>
<line x1="1054.14" y1="360.5" x2="1054.14" y2="400" stroke="#54ffff" stroke-width="1.45"/>
<rect x="1050.24" y="362" width="7.8" height="32" fill="#54ffff"/>
<line x1="1064.64" y1="386" x2="1064.64" y2="417.5" stroke="#ff3232" stroke-width="1.45"/>
<rect x="1060.74" y="406" width="7.8" height="4.5" fill="#ff3232"/>
<line x1="1076.64" y1="392.5" x2="1076.64" y2="431" stroke="#54ffff" stroke-width="1.45"/>
<rect x="1072.74" y="396" width="7.8" height="34" fill="#54ffff"/>
<line x1="1087.14" y1="422" x2="1087.14" y2="454" stroke="#ff3232" stroke-width="1.45"/>
<rect x="1083.24" y="430" width="7.8" height="4" fill="#ff3232"/>
<line x1="1097.64" y1="407" x2="1097.64" y2="431" stroke="#ff3232" stroke-width="1.45"/>
<rect x="1093.74" y="412" width="7.8" height="16" fill="#ff3232"/>
<line x1="1109.64" y1="410" x2="1109.64" y2="427" stroke="#54ffff" stroke-width="1.45"/>
<rect x="1105.74" y="413" width="7.8" height="12.5" fill="#54ffff"/>
<line x1="1120.14" y1="407" x2="1120.14" y2="427" stroke="#ff3232" stroke-width="1.45"/>
<rect x="1116.24" y="413" width="7.8" height="12.5" fill="#ff3232"/>
<line x1="1130.64" y1="409" x2="1130.64" y2="420" stroke="#54ffff" stroke-width="1.45"/>
<rect x="1126.74" y="415.5" width="7.8" height="2" fill="#54ffff"/>
<line x1="1142.64" y1="380" x2="1142.64" y2="414" stroke="#ff3232" stroke-width="1.45"/>
<rect x="1138.74" y="382" width="7.8" height="32" fill="#ff3232"/>
<line x1="1153.14" y1="378" x2="1153.14" y2="389.5" stroke="#54ffff" stroke-width="1.45"/>
<rect x="1149.24" y="380" width="7.8" height="4" fill="#54ffff"/>
<line x1="1165.14" y1="382" x2="1165.14" y2="397.5" stroke="#54ffff" stroke-width="1.45"/>
<rect x="1161.24" y="384" width="7.8" height="8.5" fill="#54ffff"/>
<line x1="1175.64" y1="389.5" x2="1175.64" y2="412" stroke="#54ffff" stroke-width="1.45"/>
<rect x="1171.74" y="394" width="7.8" height="15.5" fill="#54ffff"/>
<line x1="1186.14" y1="414" x2="1186.14" y2="430" stroke="#54ffff" stroke-width="1.45"/>
<rect x="1182.24" y="416" width="7.8" height="13.5" fill="#54ffff"/>
<line x1="1198.14" y1="420.5" x2="1198.14" y2="445" stroke="#ff3232" stroke-width="1.45"/>
<rect x="1194.24" y="422.5" width="7.8" height="7.5" fill="#ff3232"/>
<line x1="1208.64" y1="411" x2="1208.64" y2="433" stroke="#ff3232" stroke-width="1.45"/>
<rect x="1204.74" y="413" width="7.8" height="10" fill="#ff3232"/>
<line x1="1219.14" y1="412" x2="1219.14" y2="432.5" stroke="#54ffff" stroke-width="1.45"/>
<rect x="1215.24" y="416" width="7.8" height="16.5" fill="#54ffff"/>
<line x1="1231.14" y1="422" x2="1231.14" y2="444" stroke="#54ffff" stroke-width="1.45"/>
<rect x="1227.24" y="436" width="7.8" height="3" fill="#54ffff"/>
<line x1="1241.64" y1="417.5" x2="1241.64" y2="445" stroke="#54ffff" stroke-width="1.45"/>
<rect x="1237.74" y="435" width="7.8" height="2" fill="#54ffff"/>
<line x1="1252.14" y1="436.5" x2="1252.14" y2="465.5" stroke="#54ffff" stroke-width="1.45"/>
<rect x="1248.24" y="436.6" width="7.8" height="27.7" fill="#54ffff"/>
<line x1="1264.14" y1="452" x2="1264.14" y2="470" stroke="#ff3232" stroke-width="1.45"/>
<rect x="1260.24" y="461" width="7.8" height="4" fill="#ff3232"/>
<line x1="1274.64" y1="453.7" x2="1274.64" y2="471.6" stroke="#54ffff" stroke-width="1.45"/>
<rect x="1270.74" y="461.5" width="7.8" height="6.8" fill="#54ffff"/>
<line x1="1285.14" y1="450.8" x2="1285.14" y2="482" stroke="#54ffff" stroke-width="1.45"/>
<rect x="1281.24" y="455.7" width="7.8" height="7.8" fill="#54ffff"/>
<line x1="1297.14" y1="459.4" x2="1297.14" y2="483.3" stroke="#54ffff" stroke-width="1.45"/>
<rect x="1293.24" y="462.7" width="7.8" height="20.6" fill="#54ffff"/>
<line x1="1307.64" y1="485" x2="1307.64" y2="500" stroke="#54ffff" stroke-width="1.45"/>
<rect x="1303.74" y="487.9" width="7.8" height="9.4" fill="#54ffff"/>
<line x1="1318.14" y1="473.2" x2="1318.14" y2="500" stroke="#ff3232" stroke-width="1.45"/>
<rect x="1314.24" y="475.2" width="7.8" height="23.3" fill="#ff3232"/>
<line x1="1330.14" y1="452.4" x2="1330.14" y2="482.2" stroke="#ff3232" stroke-width="1.45"/>
<rect x="1326.24" y="462.7" width="7.8" height="14.6" fill="#ff3232"/>
<line x1="1340.64" y1="457" x2="1340.64" y2="469" stroke="#54ffff" stroke-width="1.45"/>
<rect x="1336.74" y="464.8" width="7.8" height="1.9" fill="#54ffff"/>
<line x1="1351.14" y1="446.4" x2="1351.14" y2="469" stroke="#ff3232" stroke-width="1.45"/>
<rect x="1347.24" y="447.2" width="7.8" height="16.3" fill="#ff3232"/>
<line x1="1363.14" y1="443.6" x2="1363.14" y2="459" stroke="#ff3232" stroke-width="1.45"/>
<rect x="1359.24" y="452" width="7.8" height="2.5" fill="#ff3232"/>
<line x1="1373.64" y1="432.5" x2="1373.64" y2="454.5" stroke="#ff3232" stroke-width="1.45"/>
<rect x="1369.74" y="439.9" width="7.8" height="9.7" fill="#ff3232"/>
<line x1="1384.14" y1="438.7" x2="1384.14" y2="458.6" stroke="#54ffff" stroke-width="1.45"/>
<rect x="1380.24" y="442.6" width="7.8" height="13.5" fill="#54ffff"/>
<line x1="1396.14" y1="446.4" x2="1396.14" y2="461" stroke="#ff3232" stroke-width="1.45"/>
<rect x="1392.24" y="447.2" width="7.8" height="6.5" fill="#ff3232"/>
<line x1="1406.64" y1="467.5" x2="1406.64" y2="494.4" stroke="#54ffff" stroke-width="1.45"/>
<rect x="1402.74" y="473.2" width="7.8" height="20.8" fill="#54ffff"/>
<line x1="1417.14" y1="485" x2="1417.14" y2="506.6" stroke="#54ffff" stroke-width="1.45"/>
<rect x="1413.24" y="491.1" width="7.8" height="9.8" fill="#54ffff"/>
<line x1="1429.14" y1="491.1" x2="1429.14" y2="510.7" stroke="#54ffff" stroke-width="1.45"/>
<rect x="1425.24" y="497.3" width="7.8" height="2.3" fill="#54ffff"/>
<rect x="1398.7" y="462.6" width="68.5" height="5" fill="#858585"/>
<polyline points="7,120 25,117.5 42.5,108.75 62.5,105 75,102.5 100,105 125,107.5 150,111.25 172.5,113.75 184,117 200,113 217.14,113.47 227.64,114.65 238.14,116.25 250.14,119.25 260.64,122.7 271.14,123.55 283.14,122.78 293.64,122.22 305.64,121.03 316.14,120.97 326.64,120.83 338.64,119.45 349.14,119.12 359.64,117.25 371.64,116.75 382.14,115.1 392.64,111.42 404.64,107.72 415.14,106.45 425.64,107.03 437.64,106.38 448.14,107.62 458.64,110.67 470.64,113.97 481.14,118.17 491.64,124.17 503.64,128.6 514.14,133.2 524.64,138.68 536.64,143.68 547.14,149.43 557.64,155.25 569.64,161.62 580.14,167.95 592.14,175.7 602.64,188.38 613.14,200.88 625.14,213.88 635.64,225.4 646.14,236.03 658.14,245.35 668.64,254.55 679.14,261.88 691.14,267.38 701.64,272.27 712.14,276.1 724.14,283.38 734.64,291.77 745.14,299.35 757.14,304.5 767.64,308.31 778.14,314.34 790.14,317.22 800.64,319.37 811.14,320.37 823.14,317.37 833.64,315.56 844.14,312.74 856.14,310.44 866.64,307.17 878.64,304.54 889.14,301.06 899.64,298.49 911.64,298.92 922.14,300.04 932.64,301.92 944.64,302.81 955.14,303.76 965.64,306.19 977.64,311.94 988.14,316.53 998.64,321.18 1010.64,325.85 1021.14,330.2 1031.64,333.62 1043.64,337.75 1054.14,342.95 1064.64,348.12 1076.64,355.12 1087.14,362.65 1097.64,369.65 1109.64,377.4 1120.14,383.5 1130.64,389.4 1142.64,392.02 1153.14,394.82 1165.14,397.32 1175.64,399.35 1186.14,401.2 1198.14,401.02 1208.64,401.98 1219.14,402.62 1231.14,405.68 1241.64,409.12 1252.14,414.79 1264.14,419.74 1274.64,423.46 1285.14,426.33 1297.14,429 1307.64,432.36 1318.14,435.52 1330.14,437.38 1340.64,440.06 1351.14,441.55 1363.14,445.05 1373.64,447.84 1384.14,451.02 1396.14,452.91 1406.64,456.14 1417.14,460.06 1429.14,464.39" fill="none" stroke="#ff00ff" stroke-width="1.4" stroke-linejoin="round" />
<polyline points="7,120 19,117.5 30,111 40,108.75 52,108 62.5,107.5 73,101 85,96 96,91 106.14,93.55 118.14,94.5 128.64,94.8 139.14,104.2 151.14,110.35 161.64,114.55 172.14,118.9 184.14,126.1 194.64,128.5 205.14,129.7 217.14,133.4 227.64,134.8 238.14,137.7 250.14,134.3 260.64,135.05 271.14,132.55 283.14,126.65 293.64,118.35 305.64,113.55 316.14,112.25 326.64,108.25 338.64,104.1 349.14,100.55 359.64,100.2 371.64,98.45 382.14,97.65 392.64,96.2 404.64,97.1 415.14,99.35 425.64,101.8 437.64,104.5 448.14,111.15 458.64,120.8 470.64,127.75 481.14,137.9 491.64,150.7 503.64,161 514.14,169.3 524.64,178 536.64,185.55 547.14,194.35 557.64,199.35 569.64,202.45 580.14,208.15 592.14,213.5 602.64,226.05 613.14,240.75 625.14,258.45 635.64,272.8 646.14,286.5 658.14,296.35 668.64,309.75 679.14,321.3 691.14,326.6 701.64,331.05 712.14,326.15 724.14,326 734.64,325.1 745.14,325.9 757.14,322.5 767.64,320.26 778.14,318.93 790.14,313.13 800.64,312.13 811.14,309.68 823.14,308.58 833.64,305.13 844.14,300.38 856.14,294.98 866.64,291.83 878.64,288.82 889.14,283.2 899.64,283.85 911.64,285.7 922.14,290.4 932.64,295.25 944.64,300.5 955.14,307.15 965.64,317.4 977.64,332.05 988.14,344.25 998.64,359.15 1010.64,367.85 1021.14,374.7 1031.64,376.85 1043.64,380.25 1054.14,385.4 1064.64,389.1 1076.64,392.85 1087.14,393.25 1097.64,395.05 1109.64,395.65 1120.14,399.15 1130.64,404.1 1142.64,407.2 1153.14,409.4 1165.14,409.25 1175.64,409.6 1186.14,409.55 1198.14,408.8 1208.64,408.9 1219.14,409.6 1231.14,412.2 1241.64,414.15 1252.14,422.38 1264.14,430.08 1274.64,437.66 1285.14,443.06 1297.14,448.44 1307.64,455.92 1318.14,462.14 1330.14,465.16 1340.64,467.93 1351.14,468.95 1363.14,467.72 1373.64,465.61 1384.14,464.39 1396.14,462.76 1406.64,463.83 1417.14,464.19 1429.14,466.63" fill="none" stroke="#ffff00" stroke-width="1.4" stroke-linejoin="round" />
<polyline points="7,136 19,132.5 30,101 40,85 52.14,79.7 62.64,79.4 73.14,79 85.14,89.4 95.64,100 106.14,107.4 118.14,109.6 128.64,110.6 139.14,119 151.14,120.7 161.64,121.7 172.14,128.2 184.14,141.6 194.64,138 205.14,138.7 217.14,145.1 227.64,141.4 238.14,133.8 250.14,130.6 260.64,131.4 271.14,120 283.14,111.9 293.64,102.9 305.64,96.5 316.14,93.1 326.64,96.5 338.64,96.3 349.14,98.2 359.64,103.9 371.64,103.8 382.14,98.8 392.64,96.1 404.64,96 415.14,94.8 425.64,99.8 437.64,110.2 448.14,126.2 458.64,145.6 470.64,160.7 481.14,176 491.64,191.2 503.64,195.8 514.14,193 524.64,195.3 536.64,195.1 547.14,197.5 557.64,202.9 569.64,211.9 580.14,221 592.14,231.9 602.64,254.6 613.14,278.6 625.14,305 635.64,324.6 646.14,341.1 658.14,338.1 668.64,340.9 679.14,337.6 691.14,328.6 701.64,321 712.14,314.2 724.14,311.1 734.64,312.6 745.14,323.2 757.14,324 767.64,326.32 778.14,326.76 790.14,313.66 800.64,301.06 811.14,295.36 823.14,290.84 833.64,283.5 844.14,287.1 856.14,288.9 866.64,288.3 878.64,286.8 889.14,282.9 899.64,280.6 911.64,282.5 922.14,292.5 932.64,303.7 944.64,318.1 955.14,333.7 965.64,352.3 977.64,371.6 988.14,384.8 998.64,400.2 1010.64,402 1021.14,397.1 1031.64,382.1 1043.64,375.7 1054.14,370.6 1064.64,376.2 1076.64,388.6 1087.14,404.4 1097.64,414.4 1109.64,420.7 1120.14,422.1 1130.64,419.6 1142.64,410 1153.14,404.4 1165.14,397.8 1175.64,397.1 1186.14,399.5 1198.14,407.6 1208.64,413.4 1219.14,421.4 1231.14,427.3 1241.64,428.8 1252.14,437.16 1264.14,446.76 1274.64,453.92 1285.14,458.82 1297.14,468.08 1307.64,474.68 1318.14,477.52 1330.14,476.4 1340.64,477.04 1351.14,469.82 1363.14,460.76 1373.64,453.7 1384.14,452.38 1396.14,448.48 1406.64,457.84 1417.14,467.62 1429.14,479.56" fill="none" stroke="#f4f4f4" stroke-width="1.3" stroke-linejoin="round" />
<polyline points="1096.79,167.62 1115.2,167.62 1138.22,171.95 1158.53,172.49 1181.54,176.01 1203.21,176.56 1226.22,180.62 1247.89,183.33 1269.55,186.57 1292.56,189.55 1315.58,194.16 1335.89,197.41 1357.55,199.57 1379.21,202.82 1402.23,205.8 1427.96,209.86" fill="none" stroke="#00c800" stroke-width="1.6" stroke-linejoin="round" />
<polyline points="7.14,607.5 19.14,606.25 29.64,600.5 40.14,595 52.14,592.5 62.64,592.5 73.14,593 85.14,593.75 95.64,592.5 106.14,593.95 118.14,597.08 128.64,597.52 139.14,599.77 151.14,602.08 161.64,602.65 172.14,602.48 184.14,602.77 194.64,603.88 205.14,604 217.14,603.7 227.64,603.85 238.14,605.35 250.14,606.85 260.64,610.42 271.14,612.42 283.14,614.17 293.64,614.67 305.64,614.55 316.14,615 326.64,615.75 338.64,616.5 349.14,617.08 359.64,618.73 371.64,619.17 382.14,618.38 392.64,618 404.64,617.05 415.14,618.67 425.64,619.02 437.64,619.15 448.14,618.7 458.64,616.92 470.64,616.3 481.14,616.15 491.64,619.15 503.64,620.95 514.14,623.2 524.64,624.23 536.64,626.3 547.14,628.42 557.64,630.1 569.64,633.1 580.14,635.08 592.14,635.08 602.64,632.55 613.14,631.5 625.14,630.75 635.64,630.48 646.14,630.48 658.14,628.73 668.64,627.35 679.14,626.48 691.14,622.88 701.64,620.9 712.14,619.85 724.14,619.67 734.64,620.12 745.14,618.15 757.14,617.23 767.64,617.02 778.14,615.4 790.14,611.02 800.64,609.83 811.14,609.55 823.14,610.6 833.64,609.45 844.14,608.52 856.14,609.58 866.64,607.5 878.64,604.77 889.14,604.17 899.64,604.92 911.64,606.42 922.14,607.75 932.64,610.12 944.64,612.38 955.14,611.98 965.64,614.1 977.64,617.55 988.14,621.48 998.64,624.6 1010.64,626.85 1021.14,628.92 1031.64,629.98 1043.64,629.82 1054.14,630.12 1064.64,632.2 1076.64,631.91 1087.14,631.61 1097.64,631.75 1109.64,632.15 1120.14,634.48 1130.64,635.71 1142.64,635.28 1153.14,635.13 1165.14,635.99 1175.64,636.28 1186.14,636.87 1198.14,637.17 1208.64,636.27 1219.14,635.3 1231.14,634.62 1241.64,632.5 1252.14,632.8 1264.14,633.38 1274.64,633.55 1285.14,632.8 1297.14,631.17 1307.64,631.17 1318.14,631.75 1330.14,630.67 1340.64,630.4 1351.14,630.27 1363.14,631.92 1373.64,630.6 1384.14,628.17 1396.14,628.92 1406.64,629.95 1417.14,631 1429.14,632.38" fill="none" stroke="#ffff00" stroke-width="1.4" stroke-linejoin="round" />
<polyline points="7.14,598.75 19.14,595 29.64,594.25 40.14,585 52.14,583.65 62.64,586.65 73.14,588.45 85.14,592.25 95.64,599.5 106.14,604.25 118.14,607.5 128.64,606.6 139.14,607.3 151.14,604.65 161.64,601.05 172.14,597.45 184.14,598.95 194.64,600.45 205.14,603.35 217.14,606.35 227.64,610.25 238.14,611.75 250.14,613.25 260.64,617.5 271.14,618.5 283.14,618.1 293.64,617.6 305.64,615.85 316.14,612.5 326.64,613 338.64,614.9 349.14,616.55 359.64,621.6 371.64,625.85 382.14,623.75 392.64,621.1 404.64,617.55 415.14,615.75 425.64,612.2 437.64,614.55 448.14,616.3 458.64,616.3 470.64,616.85 481.14,620.1 491.64,623.75 503.64,625.6 514.14,630.1 524.64,631.6 536.64,632.5 547.14,633.1 557.64,634.6 569.64,636.1 580.14,638.55 592.14,637.65 602.64,632 613.14,628.4 625.14,625.4 635.64,622.4 646.14,623.3 658.14,625.45 668.64,626.3 679.14,627.55 691.14,623.35 701.64,618.5 712.14,614.25 724.14,613.05 734.64,612.7 745.14,612.95 757.14,615.95 767.64,619.8 778.14,617.75 790.14,609.35 800.64,606.7 811.14,603.15 823.14,601.4 833.64,601.15 844.14,607.7 856.14,612.45 866.64,611.85 878.64,608.15 889.14,607.2 899.64,602.15 911.64,600.4 922.14,603.65 932.64,612.1 944.64,617.55 955.14,621.8 965.64,627.8 977.64,631.45 988.14,630.85 998.64,631.65 1010.64,631.9 1021.14,630.05 1031.64,628.5 1043.64,628.79 1054.14,628.59 1064.64,632.5 1076.64,633.78 1087.14,634.72 1097.64,634.72 1109.64,635.72 1120.14,636.46 1130.64,637.63 1142.64,635.84 1153.14,635.55 1165.14,636.25 1175.64,636.1 1186.14,636.1 1198.14,638.5 1208.64,637 1219.14,634.35 1231.14,633.15 1241.64,628.9 1252.14,627.1 1264.14,629.75 1274.64,632.75 1285.14,632.45 1297.14,633.45 1307.64,635.25 1318.14,633.75 1330.14,628.6 1340.64,628.35 1351.14,627.1 1363.14,628.6 1373.64,627.45 1384.14,627.75 1396.14,629.5 1406.64,632.8 1417.14,633.4 1429.14,637.3" fill="none" stroke="#f4f4f4" stroke-width="1.3" stroke-linejoin="round" />
<polyline points="7,754.5 19,755.75 30,753.25 40,752 52,751.25 62.5,751.25 73,752 85,753.25 95.75,754.5 106.25,757 117.5,759.5 128.75,762 139.25,764.5 151,767 162,770.25 172.5,773.25 184.25,777 194.5,780.75 205.5,783.25 217,785.75 227.5,787.5 238.25,789 250,789.5 260.75,789.5 271.25,789 283,787 293.75,785.25 305.5,782.75 317,780.75 327.5,779.5 338.75,778.75 350,778.25 360,777.5 372,777 382.5,776.5 393,775.25 404.5,775 415.5,775 425.75,775.75 437.5,778.25 448.25,781.5 458.75,785.75 470.75,790.75 481.25,795.75 492,802 503.5,807 514.25,811.25 525,814.5 536.25,817.5 547.5,820.75 558,823.25 569.5,826.25 580,828.75 591.75,832 602.5,837 613.25,843.25 625,850 635.75,856.5 646.25,862 658,867.75 668.75,872 680,874.5 691.25,875 702,874 712.5,871.5 724.25,869 735,867.5 745.5,865.75 757,863.25 768,860 778.75,857 790,852.75 800.75,847.5 811.25,842 823.25,836.5 834,832 844.5,827.5 856.25,823.25 867,820.25 877.5,815.75 889.25,811.5 900,808.25 911.75,806.5 922.5,805.75 933,805.75 945,807 955.5,809 966.25,812.5 978,817.5 988.75,822.5 1000,826.08 1008.1,830.14 1020.26,832.77 1038.48,832.77 1060.77,833.58 1091.15,838.64 1113.43,839.25 1131.66,839.66 1151.91,836.21 1172.17,832.16 1182.3,829.53 1202.55,829.12 1214.71,826.69 1243.06,826.69 1253.19,828.11 1269.39,828.72 1283.57,830.14 1299.98,832.77 1308.5,834.5 1319,835.75 1330.5,836.25 1341,835.75 1351.75,834 1363.5,832 1374.25,829.5 1384.75,827.5 1396.5,825 1407.25,823.25 1418,823.25 1428.5,823.75" fill="none" stroke="#ffff00" stroke-width="1.4" stroke-linejoin="round" />
<polyline points="7,760.75 19,758.25 30,750.75 40,747 52,745.25 62.5,750.75 73,753.25 85,757 95.75,759.5 106.25,763.25 117.5,767 128.75,769.5 139.25,775.75 151,778.25 162,780.25 172.5,785.75 184.25,793.75 194.5,793.75 205.5,792 217,794.5 227.5,795 238.25,795 250,792 260.75,790.25 271.25,785.75 283,780.25 293.75,776.25 305.5,773.75 317,773.75 327.5,775.75 338.75,774 350,774 360,775 372,775.75 382.5,773.25 393,771.25 404.5,772.5 415.5,774.5 425.75,780 437.5,785 448.25,794.5 458.75,804.5 470.75,809.5 481.25,817 492,826.5 503.5,826.5 514.25,827 525,828.75 536.25,831.25 547.5,835.25 558,835.75 569.5,836.5 580,839.5 591.75,844 602.5,857 613.25,867 625,877 635.75,883.25 646.25,887.5 658,886.5 668.75,885.75 680,884 691.25,877 702,869 712.5,862 724.25,859 735,860.75 745.5,860.75 757,854.5 768,847.75 778.75,844 790,835.75 800.75,827 811.25,820.75 823.25,815.75 834,811.5 844.5,811.5 856.25,808.25 867,803.75 877.5,799.5 889.25,795 900,795 911.75,797 922.5,802 933,804.5 945,810.25 955.5,818.25 966.25,827 978,837 988.75,842 1000,847.35 1012.15,845.33 1038.48,832.77 1058.74,833.17 1066.84,836.21 1085.07,842.9 1113.43,842.9 1131.66,840.26 1145.84,830.14 1162.04,823.45 1180.27,823.45 1182.3,825.07 1202.55,825.07 1204.58,823.45 1213.69,823.45 1214.71,825.07 1235.97,825.07 1249.14,829.12 1269.39,833.58 1299.98,837.63 1308.5,842 1319,840.25 1330.5,837 1341,834 1351.75,829.5 1363.5,825.25 1374.25,820.75 1384.75,817.75 1396.5,814.5 1407.25,818.75 1418,821.5 1428.5,824" fill="none" stroke="#f4f4f4" stroke-width="1.3" stroke-linejoin="round" />
<path d="M162.54,128.2 L170.19,137.1 L165.74,137.1 L165.74,144.8 L159.34,144.8 L159.34,137.1 L154.89,137.1 Z" fill="#ff0000"/>
<path d="M206.04,142.6 L213.69,151.5 L209.24,151.5 L209.24,159.2 L202.84,159.2 L202.84,151.5 L198.39,151.5 Z" fill="#ff0000"/>
<path d="M504.54,218.7 L512.19,227.6 L507.74,227.6 L507.74,235.3 L501.34,235.3 L501.34,227.6 L496.89,227.6 Z" fill="#ff0000"/>
<path d="M647.04,349.8 L654.69,358.7 L650.24,358.7 L650.24,366.4 L643.84,366.4 L643.84,358.7 L639.39,358.7 Z" fill="#ff0000"/>
<path d="M1011.54,425.2 L1019.19,434.1 L1014.74,434.1 L1014.74,441.8 L1008.34,441.8 L1008.34,434.1 L1003.89,434.1 Z" fill="#ff0000"/>
<path d="M1098.54,434 L1106.19,442.9 L1101.74,442.9 L1101.74,450.6 L1095.34,450.6 L1095.34,442.9 L1090.89,442.9 Z" fill="#ff0000"/>
<path d="M1242.54,448 L1250.19,456.9 L1245.74,456.9 L1245.74,464.6 L1239.34,464.6 L1239.34,456.9 L1234.89,456.9 Z" fill="#ff0000"/>
<path d="M1319.04,503.3 L1326.69,512.2 L1322.24,512.2 L1322.24,519.9 L1315.84,519.9 L1315.84,512.2 L1311.39,512.2 Z" fill="#ff0000"/>
<path d="M50.44,47.85 L55.64,47.85 L55.64,55.45 L59.89,55.45 L53.04,62.75 L46.19,55.45 L50.44,55.45 Z" fill="#000" stroke="#00ec00" stroke-width="1.4" stroke-linejoin="miter"/>
<path d="M314.44,62.05 L319.64,62.05 L319.64,69.65 L323.89,69.65 L317.04,76.95 L310.19,69.65 L314.44,69.65 Z" fill="#000" stroke="#00ec00" stroke-width="1.4" stroke-linejoin="miter"/>
<path d="M402.94,55.05 L408.14,55.05 L408.14,62.65 L412.39,62.65 L405.54,69.95 L398.69,62.65 L402.94,62.65 Z" fill="#000" stroke="#00ec00" stroke-width="1.4" stroke-linejoin="miter"/>
<path d="M821.44,259.55 L826.64,259.55 L826.64,267.15 L830.89,267.15 L824.04,274.45 L817.19,267.15 L821.44,267.15 Z" fill="#000" stroke="#00ec00" stroke-width="1.4" stroke-linejoin="miter"/>
<path d="M897.94,250.35 L903.14,250.35 L903.14,257.95 L907.39,257.95 L900.54,265.25 L893.69,257.95 L897.94,257.95 Z" fill="#000" stroke="#00ec00" stroke-width="1.4" stroke-linejoin="miter"/>
<path d="M198.5,15.3 L206.4,24.6 L201.65,24.6 L201.65,31.9 L195.35,31.9 L195.35,24.6 L190.6,24.6 Z" fill="#ff0000"/>
<rect x="1467.3" y="10" width="2" height="705" fill="#b40000"/>
<rect x="1467.3" y="714" width="3.6" height="178" fill="#b40000"/>
<rect x="0" y="537.4" width="1481" height="2.3" fill="#b00000"/>
<rect x="0" y="713" width="1481" height="2.2" fill="#980000"/>
<rect x="0" y="890.4" width="1481" height="1.6" fill="#a40000"/>
<rect x="1469" y="55.9" width="7.6" height="1.7" fill="#b40000"/>
<rect x="1469" y="96" width="3.6" height="1.7" fill="#b40000"/>
<rect x="1469" y="136.05" width="7.6" height="1.7" fill="#b40000"/>
<rect x="1469" y="176.15" width="3.6" height="1.7" fill="#b40000"/>
<rect x="1469" y="216.25" width="7.6" height="1.7" fill="#b40000"/>
<rect x="1469" y="256.35" width="3.6" height="1.7" fill="#b40000"/>
<rect x="1469" y="296.35" width="7.6" height="1.7" fill="#b40000"/>
<rect x="1469" y="336.45" width="3.6" height="1.7" fill="#b40000"/>
<rect x="1469" y="377.05" width="7.6" height="1.7" fill="#b40000"/>
<rect x="1469" y="417.15" width="3.6" height="1.7" fill="#b40000"/>
<rect x="1469" y="456.75" width="7.6" height="1.7" fill="#b40000"/>
<rect x="1469" y="596.05" width="7.6" height="1.7" fill="#b40000"/>
<rect x="1469" y="615.35" width="3.6" height="1.7" fill="#b40000"/>
<rect x="1469" y="634.35" width="7.6" height="1.7" fill="#b40000"/>
<rect x="1469" y="653.55" width="3.6" height="1.7" fill="#b40000"/>
<rect x="1469" y="672.75" width="7.6" height="1.7" fill="#b40000"/>
<rect x="1469" y="741.9" width="3.6" height="1.7" fill="#b40000"/>
<rect x="1469" y="764.15" width="3.6" height="1.7" fill="#b40000"/>
<rect x="1469" y="786.65" width="7.6" height="1.7" fill="#b40000"/>
<rect x="1469" y="809.15" width="3.6" height="1.7" fill="#b40000"/>
<rect x="1469" y="831.65" width="7.6" height="1.7" fill="#b40000"/>
<rect x="1469" y="690.7" width="13" height="1.8" fill="#b40000"/>
<path d="M1471.9,695.5 L1482,709 M1482,695.5 L1471.9,709" stroke="#d03838" stroke-width="1.3" fill="none"/>
<path d="M1435.3,17.7 L1442.9,25.3 L1435.3,32.9 L1427.7,25.3 Z" fill="none" stroke="#a80000" stroke-width="1.6"/>
<rect x="1450.05" y="17.75" width="13.8" height="15.1" fill="none" stroke="#a80000" stroke-width="1.7"/>
<line x1="1459.2" y1="17.7" x2="1459.2" y2="32.9" stroke="#a80000" stroke-width="1.7"/>
<g><text transform="translate(1402.06,457) scale(0.9609,1)" fill="#c4c4c4" font-size="19" stroke="#000" stroke-width="0.2">1394.25</text></g>
<g><text transform="translate(1333.79,520.4) scale(0.9393,1)" fill="#c4c4c4" font-size="19" stroke="#000" stroke-width="0.2">1333.84</text></g>
<path d="M1396,511.5 L1426,511.5 M1419,508 L1426,511.5 L1419,516" stroke="#c4c4c4" stroke-width="1.2" fill="none"/>
<g><text transform="translate(59.92,56) scale(0.9872,1)" fill="#c4c4c4" font-size="19" stroke="#000" stroke-width="0.2">1918.22</text></g>
<path d="M40.4,45.2 L40.4,39.9 L45.2,39.9 M41,40.5 L44,43 L50,45 L57.5,48.3" stroke="#c4c4c4" stroke-width="1.2" fill="none"/>
<line x1="16.9" y1="38.2" x2="1335.2" y2="520.4" stroke="#ffff00" stroke-width="1.35"/>
<line x1="74" y1="38.2" x2="1191.4" y2="520.7" stroke="#ffff00" stroke-width="1.35"/>
<line x1="280" y1="38" x2="1467.8" y2="474.5" stroke="#ffff00" stroke-width="1.35"/>
<line x1="365" y1="40" x2="1467.8" y2="514.7" stroke="#ffff00" stroke-width="1.35"/>
<g><text transform="translate(210.69,30.3) scale(0.8727,1)" fill="#ffffff" font-size="19">MA5:</text></g>
<g><text transform="translate(253.52,30.3) scale(0.9850,1)" fill="#ffffff" font-size="19">1371.60</text></g>
<g><text transform="translate(328.66,30.3) scale(0.8928,1)" fill="#ffff00" font-size="19">MA10:</text></g>
<g><text transform="translate(381.71,30.3) scale(0.9932,1)" fill="#ffff00" font-size="19">1387.57</text></g>
<g><text transform="translate(458.16,30.3) scale(0.8947,1)" fill="#ff00ff" font-size="19">MA20:</text></g>
<g><text transform="translate(511.83,30.3) scale(0.9783,1)" fill="#ff00ff" font-size="19">1390.54</text></g>
<g><text transform="translate(586.63,30.3) scale(0.9108,1)" fill="#00f000" font-size="19">MA250:</text></g>
<g><text transform="translate(650.83,30.3) scale(0.9768,1)" fill="#00f000" font-size="19">1708.94</text></g>
<g><text transform="translate(2.7,557.2) scale(0.9146,1)" fill="#ffffff" font-size="19">VOLUME:</text></g>
<g><text transform="translate(84.97,557.2) scale(0.9790,1)" fill="#ffffff" font-size="19">33740896.00</text></g>
<g><text transform="translate(201.94,557.2) scale(0.9067,1)" fill="#ffffff" font-size="19">MA5:</text></g>
<g><text transform="translate(245.37,557.2) scale(0.9763,1)" fill="#ffffff" font-size="19">38440624.00</text></g>
<g><text transform="translate(362.22,557.2) scale(0.9217,1)" fill="#ffff00" font-size="19">MA10:</text></g>
<g><text transform="translate(417.21,557.2) scale(0.9722,1)" fill="#ffff00" font-size="19">40965632.00</text></g>
<g><text transform="translate(2.59,732.7) scale(0.9405,1)" fill="#dcdcdc" font-size="19">MACD(12,26,9)</text></g>
<g><text transform="translate(133.46,732.7) scale(0.9588,1)" fill="#ffffff" font-size="19">DIF:</text></g>
<g><text transform="translate(170.69,732.7) scale(0.9416,1)" fill="#ffffff" font-size="19">-24.91</text></g>
<g><text transform="translate(231.41,732.7) scale(0.9261,1)" fill="#ffff00" font-size="19">DEA:</text></g>
<g><text transform="translate(275.77,732.7) scale(0.9780,1)" fill="#ffff00" font-size="19">-24.28</text></g>
<g><text transform="translate(337.13,732.7) scale(0.9121,1)" fill="#ff00ff" font-size="19">MACD:</text></g>
<g><text transform="translate(395.79,732.7) scale(0.9461,1)" fill="#ff00ff" font-size="19">-1.27</text></g>
<text x="3.1" y="31" font-size="18.3" fill="#d4d4d4" style="font-family:'Liberation Sans','Noto Sans CJK SC',sans-serif">创业板指</text>
<text x="75.5" y="31" font-size="18.3" fill="#d4d4d4" style="font-family:'Liberation Sans','Noto Sans CJK SC',sans-serif">(</text>
<text x="81.1" y="31" font-size="18.3" fill="#d4d4d4" style="font-family:'Liberation Sans','Noto Sans CJK SC',sans-serif">日线</text>
<text x="117.8" y="31" font-size="18.3" fill="#d4d4d4" style="font-family:'Liberation Sans','Noto Sans CJK SC',sans-serif">.</text>
<text x="121" y="31" font-size="18.3" fill="#d4d4d4" style="font-family:'Liberation Sans','Noto Sans CJK SC',sans-serif">前复权</text>
<text x="176" y="31" font-size="18.3" fill="#d4d4d4" style="font-family:'Liberation Sans','Noto Sans CJK SC',sans-serif">)</text>
<rect x="0" y="10" width="2.2" height="882" fill="#e6e6e6"/>
<rect x="0" y="0" width="1481" height="11.2" fill="url(#tb)"/>
<rect x="3" y="0" width="24" height="2" fill="#ffffff"/>
<rect x="581.4" y="-2" width="56.5" height="9.5" fill="#e6e6e6" stroke="#bdbdbd" stroke-width="1"/>
<rect x="648" y="-2" width="58" height="9.5" fill="#e6e6e6" stroke="#bdbdbd" stroke-width="1"/>
<rect x="40" y="0" width="1.92" height="1.3" fill="#a6a6a6"/>
<rect x="44.4" y="0" width="3.2" height="1.3" fill="#a6a6a6"/>
<rect x="50.45" y="0" width="4.48" height="1.3" fill="#a6a6a6"/>
<rect x="55.4" y="0" width="2.56" height="1.3" fill="#a6a6a6"/>
<rect x="62" y="0" width="3.84" height="1.3" fill="#a6a6a6"/>
<rect x="67.5" y="0" width="1.92" height="1.3" fill="#a6a6a6"/>
<rect x="71.9" y="0" width="3.2" height="1.3" fill="#a6a6a6"/>
<rect x="77.95" y="0" width="4.48" height="1.3" fill="#a6a6a6"/>
<rect x="108" y="0" width="1.92" height="1.3" fill="#a6a6a6"/>
<rect x="112.4" y="0" width="3.2" height="1.3" fill="#a6a6a6"/>
<rect x="118.45" y="0" width="4.48" height="1.3" fill="#a6a6a6"/>
<rect x="123.4" y="0" width="2.56" height="1.3" fill="#a6a6a6"/>
<rect x="130" y="0" width="3.84" height="1.3" fill="#a6a6a6"/>
<rect x="135.5" y="0" width="1.92" height="1.3" fill="#a6a6a6"/>
<rect x="139.9" y="0" width="3.2" height="1.3" fill="#a6a6a6"/>
<rect x="170" y="0" width="1.92" height="1.3" fill="#a6a6a6"/>
<rect x="174.4" y="0" width="3.2" height="1.3" fill="#a6a6a6"/>
<rect x="180.45" y="0" width="4.48" height="1.3" fill="#a6a6a6"/>
<rect x="185.4" y="0" width="2.56" height="1.3" fill="#a6a6a6"/>
<rect x="192" y="0" width="3.84" height="1.3" fill="#a6a6a6"/>
<rect x="197.5" y="0" width="1.92" height="1.3" fill="#a6a6a6"/>
<rect x="201.9" y="0" width="3.2" height="1.3" fill="#a6a6a6"/>
<rect x="235" y="0" width="1.92" height="1.3" fill="#a6a6a6"/>
<rect x="239.4" y="0" width="3.2" height="1.3" fill="#a6a6a6"/>
<rect x="245.45" y="0" width="4.48" height="1.3" fill="#a6a6a6"/>
<rect x="250.4" y="0" width="2.56" height="1.3" fill="#a6a6a6"/>
<rect x="257" y="0" width="3.84" height="1.3" fill="#a6a6a6"/>
<rect x="262.5" y="0" width="1.92" height="1.3" fill="#a6a6a6"/>
<rect x="290" y="0" width="1.92" height="1.3" fill="#a6a6a6"/>
<rect x="294.4" y="0" width="3.2" height="1.3" fill="#a6a6a6"/>
<rect x="300.45" y="0" width="4.48" height="1.3" fill="#a6a6a6"/>
<rect x="305.4" y="0" width="2.56" height="1.3" fill="#a6a6a6"/>
<rect x="312" y="0" width="3.84" height="1.3" fill="#a6a6a6"/>
<rect x="317.5" y="0" width="1.92" height="1.3" fill="#a6a6a6"/>
<rect x="321.9" y="0" width="3.2" height="1.3" fill="#a6a6a6"/>
<rect x="327.95" y="0" width="4.48" height="1.3" fill="#a6a6a6"/>
<rect x="332.9" y="0" width="2.56" height="1.3" fill="#a6a6a6"/>
<rect x="339.5" y="0" width="3.84" height="1.3" fill="#a6a6a6"/>
<rect x="345" y="0" width="1.92" height="1.3" fill="#a6a6a6"/>
<rect x="349.4" y="0" width="3.2" height="1.3" fill="#a6a6a6"/>
<rect x="355.45" y="0" width="4.48" height="1.3" fill="#a6a6a6"/>
<rect x="360.4" y="0" width="2.56" height="1.3" fill="#a6a6a6"/>
<rect x="384" y="0" width="1.92" height="1.3" fill="#a6a6a6"/>
<rect x="388.4" y="0" width="3.2" height="1.3" fill="#a6a6a6"/>
<rect x="394.45" y="0" width="4.48" height="1.3" fill="#a6a6a6"/>
<rect x="399.4" y="0" width="2.56" height="1.3" fill="#a6a6a6"/>
<rect x="406" y="0" width="3.84" height="1.3" fill="#a6a6a6"/>
<rect x="411.5" y="0" width="1.92" height="1.3" fill="#a6a6a6"/>
<rect x="415.9" y="0" width="3.2" height="1.3" fill="#a6a6a6"/>
<rect x="421.95" y="0" width="4.48" height="1.3" fill="#a6a6a6"/>
<rect x="452" y="0" width="1.92" height="1.3" fill="#a6a6a6"/>
<rect x="456.4" y="0" width="3.2" height="1.3" fill="#a6a6a6"/>
<rect x="462.45" y="0" width="4.48" height="1.3" fill="#a6a6a6"/>
<rect x="467.4" y="0" width="2.56" height="1.3" fill="#a6a6a6"/>
<rect x="474" y="0" width="3.84" height="1.3" fill="#a6a6a6"/>
<rect x="479.5" y="0" width="1.92" height="1.3" fill="#a6a6a6"/>
<rect x="483.9" y="0" width="3.2" height="1.3" fill="#a6a6a6"/>
<rect x="489.95" y="0" width="4.48" height="1.3" fill="#a6a6a6"/>
<rect x="494.9" y="0" width="2.56" height="1.3" fill="#a6a6a6"/>
<rect x="536" y="0" width="1.92" height="1.3" fill="#a6a6a6"/>
<rect x="540.4" y="0" width="3.2" height="1.3" fill="#a6a6a6"/>
<rect x="546.45" y="0" width="4.48" height="1.3" fill="#a6a6a6"/>
<rect x="551.4" y="0" width="2.56" height="1.3" fill="#a6a6a6"/>
<rect x="992" y="0" width="1.92" height="1.5" fill="#6c6c6c"/>
<rect x="996.4" y="0" width="3.2" height="1.5" fill="#6c6c6c"/>
<rect x="1002.45" y="0" width="4.48" height="1.5" fill="#6c6c6c"/>
<rect x="1007.4" y="0" width="2.56" height="1.5" fill="#6c6c6c"/>
<rect x="1014" y="0" width="3.84" height="1.5" fill="#6c6c6c"/>
<rect x="1019.5" y="0" width="1.92" height="1.5" fill="#6c6c6c"/>
<rect x="1023.9" y="0" width="3.2" height="1.5" fill="#6c6c6c"/>
<rect x="1029.95" y="0" width="4.48" height="1.5" fill="#6c6c6c"/>
<rect x="1034.9" y="0" width="2.56" height="1.5" fill="#6c6c6c"/>
<rect x="1041.5" y="0" width="3.84" height="1.5" fill="#6c6c6c"/>
<rect x="1047" y="0" width="1.92" height="1.5" fill="#6c6c6c"/>
<rect x="1051.4" y="0" width="3.2" height="1.5" fill="#6c6c6c"/>
<rect x="1057.45" y="0" width="4.48" height="1.5" fill="#6c6c6c"/>
<rect x="1062.4" y="0" width="2.56" height="1.5" fill="#6c6c6c"/>
<rect x="1069" y="0" width="3.84" height="1.5" fill="#6c6c6c"/>
<rect x="1074.5" y="0" width="1.92" height="1.5" fill="#6c6c6c"/>
<rect x="1078.9" y="0" width="3.2" height="1.5" fill="#6c6c6c"/>
<rect x="1084.95" y="0" width="4.48" height="1.5" fill="#6c6c6c"/>
<rect x="1089.9" y="0" width="2.56" height="1.5" fill="#6c6c6c"/>
<rect x="1096.5" y="0" width="3.84" height="1.5" fill="#6c6c6c"/>
<rect x="1102" y="0" width="1.92" height="1.5" fill="#6c6c6c"/>
<rect x="1106.4" y="0" width="3.2" height="1.5" fill="#6c6c6c"/>
<rect x="1136" y="0" width="1.92" height="1.5" fill="#6c6c6c"/>
<rect x="1140.4" y="0" width="3.2" height="1.5" fill="#6c6c6c"/>
<rect x="1146.45" y="0" width="4.48" height="1.5" fill="#6c6c6c"/>
<rect x="1151.4" y="0" width="2.56" height="1.5" fill="#6c6c6c"/>
<rect x="1158" y="0" width="3.84" height="1.5" fill="#6c6c6c"/>
<rect x="1163.5" y="0" width="1.92" height="1.5" fill="#6c6c6c"/>
<rect x="1167.9" y="0" width="3.2" height="1.5" fill="#6c6c6c"/>
<rect x="1173.95" y="0" width="4.48" height="1.5" fill="#6c6c6c"/>
<rect x="1178.9" y="0" width="2.56" height="1.5" fill="#6c6c6c"/>
<rect x="1185.5" y="0" width="3.84" height="1.5" fill="#6c6c6c"/>
<rect x="1191" y="0" width="1.92" height="1.5" fill="#6c6c6c"/>
<rect x="1195.4" y="0" width="3.2" height="1.5" fill="#6c6c6c"/>
<rect x="1201.45" y="0" width="4.48" height="1.5" fill="#6c6c6c"/>
<rect x="592" y="0" width="1.92" height="1.3" fill="#ff5050"/>
<rect x="596.4" y="0" width="3.2" height="1.3" fill="#ff5050"/>
<rect x="602.45" y="0" width="4.48" height="1.3" fill="#ff5050"/>
<rect x="607.4" y="0" width="2.56" height="1.3" fill="#ff5050"/>
<rect x="614" y="0" width="3.84" height="1.3" fill="#ff5050"/>
<rect x="619.5" y="0" width="1.92" height="1.3" fill="#ff5050"/>
<rect x="623.9" y="0" width="3.2" height="1.3" fill="#ff5050"/>
<rect x="662" y="0" width="1.92" height="1.3" fill="#ff5050"/>
<rect x="666.4" y="0" width="3.2" height="1.3" fill="#ff5050"/>
<rect x="672.45" y="0" width="4.48" height="1.3" fill="#ff5050"/>
<rect x="677.4" y="0" width="2.56" height="1.3" fill="#ff5050"/>
<rect x="684" y="0" width="3.84" height="1.3" fill="#ff5050"/>
<rect x="689.5" y="0" width="1.92" height="1.3" fill="#ff5050"/>
<rect x="693.9" y="0" width="3.2" height="1.3" fill="#ff5050"/>
<rect x="28" y="0" width="1" height="8" fill="#cccccc"/>
<rect x="92" y="0" width="1" height="8" fill="#cccccc"/>
<rect x="155" y="0" width="1" height="8" fill="#cccccc"/>
<rect x="220" y="0" width="1" height="8" fill="#cccccc"/>
<rect x="284" y="0" width="1" height="8" fill="#cccccc"/>
<rect x="372" y="0" width="1" height="8" fill="#cccccc"/>
<rect x="436" y="0" width="1" height="8" fill="#cccccc"/>
<rect x="510" y="0" width="1" height="8" fill="#cccccc"/>
</svg>
</body></html>
